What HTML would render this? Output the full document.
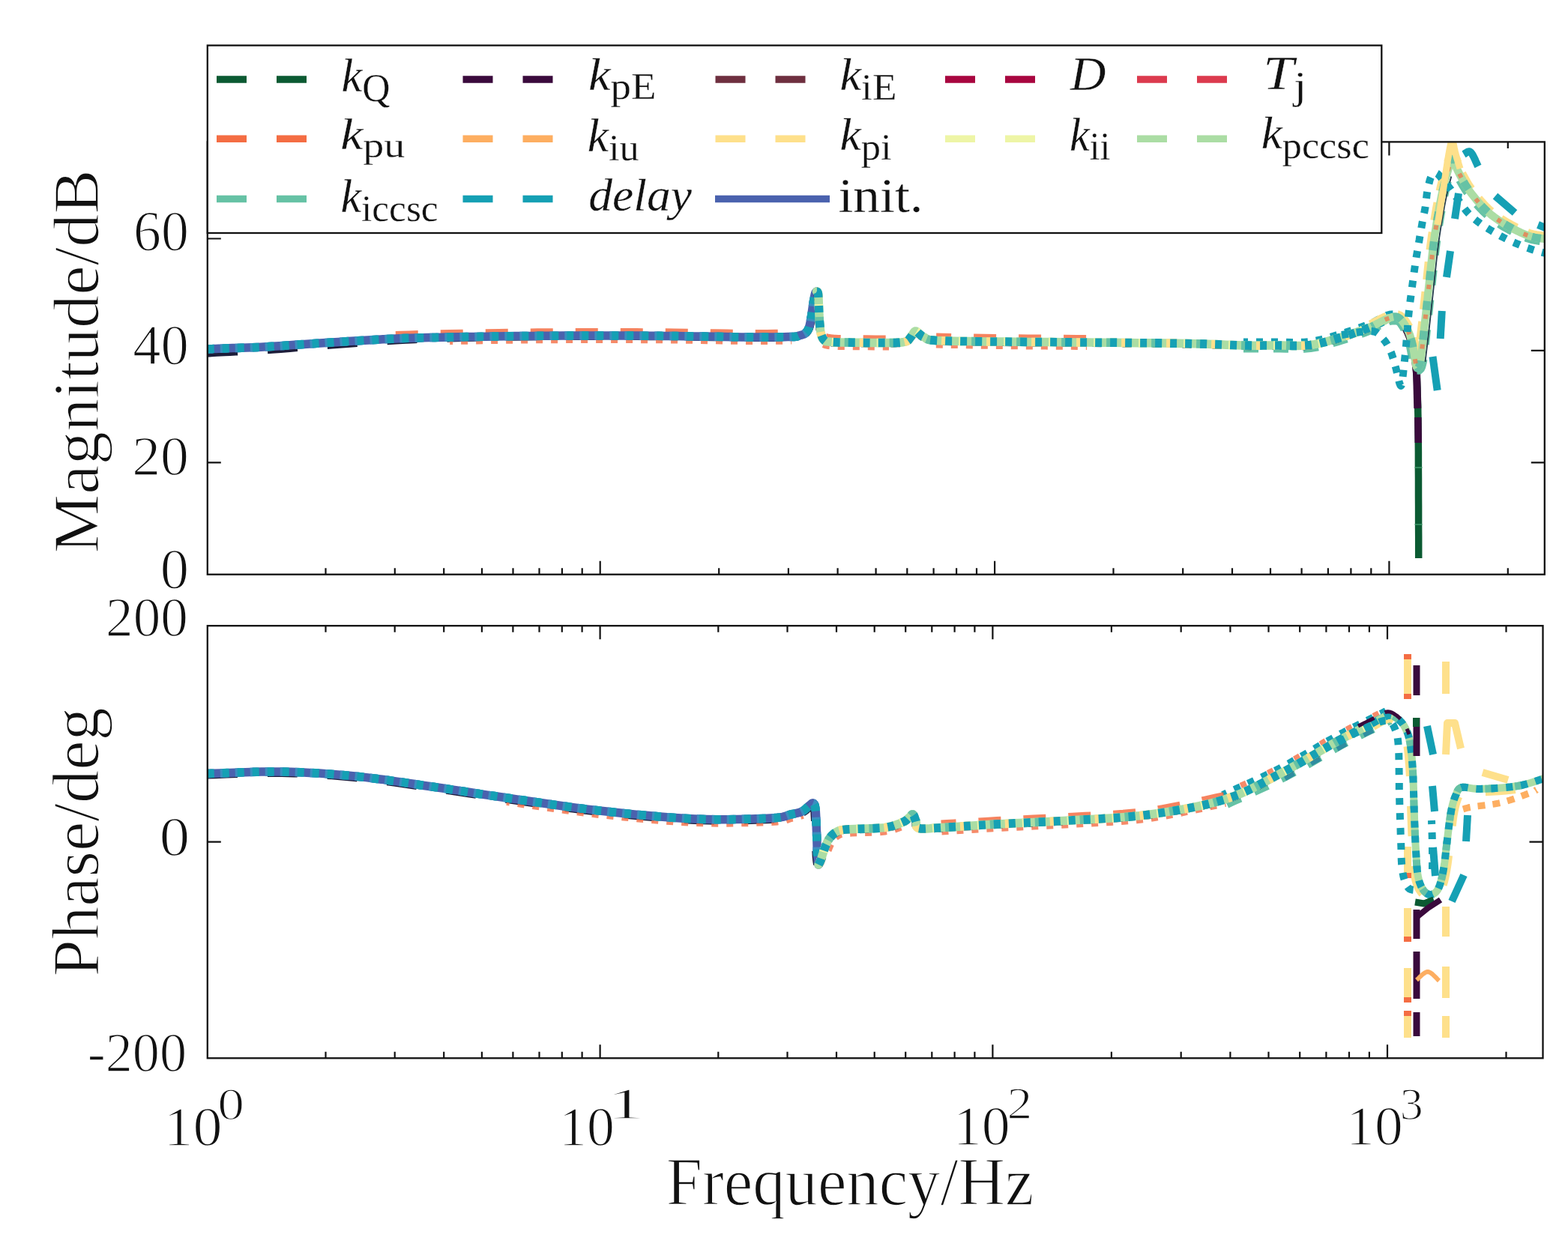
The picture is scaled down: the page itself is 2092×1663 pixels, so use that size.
<!DOCTYPE html>
<html><head><meta charset="utf-8"><title>Bode plot</title>
<style>html,body{margin:0;padding:0;background:#fff;}svg{display:block;filter:blur(0.5px);}text{stroke:#fff;stroke-width:1.4;}text.lg{stroke-width:0.3;}</style></head>
<body>
<svg width="2092" height="1663" viewBox="0 0 2092 1663" font-family="'Liberation Serif', 'DejaVu Serif', serif" fill="#111">
<defs><clipPath id="clipT"><rect x="276.8" y="189.4" width="1784.0000000000002" height="577.3000000000001"/></clipPath><clipPath id="clipB"><rect x="276.8" y="835.2" width="1781.7" height="577.0999999999999"/></clipPath></defs>
<rect width="2092" height="1663" fill="#fff"/>
<path d="M434.5 766.7v-8.5M434.5 189.4v8.5M526.8 766.7v-8.5M526.8 189.4v8.5M592.2 766.7v-8.5M592.2 189.4v8.5M643.0 766.7v-8.5M643.0 189.4v8.5M684.5 766.7v-8.5M684.5 189.4v8.5M719.5 766.7v-8.5M719.5 189.4v8.5M749.9 766.7v-8.5M749.9 189.4v8.5M776.7 766.7v-8.5M776.7 189.4v8.5M800.7 766.7v-18M800.7 189.4v18M959.2 766.7v-8.5M959.2 189.4v8.5M1051.9 766.7v-8.5M1051.9 189.4v8.5M1117.6 766.7v-8.5M1117.6 189.4v8.5M1168.6 766.7v-8.5M1168.6 189.4v8.5M1210.3 766.7v-8.5M1210.3 189.4v8.5M1245.6 766.7v-8.5M1245.6 189.4v8.5M1276.1 766.7v-8.5M1276.1 189.4v8.5M1303.0 766.7v-8.5M1303.0 189.4v8.5M1327.1 766.7v-18M1327.1 189.4v18M1485.5 766.7v-8.5M1485.5 189.4v8.5M1578.2 766.7v-8.5M1578.2 189.4v8.5M1644.0 766.7v-8.5M1644.0 189.4v8.5M1695.0 766.7v-8.5M1695.0 189.4v8.5M1736.6 766.7v-8.5M1736.6 189.4v8.5M1771.9 766.7v-8.5M1771.9 189.4v8.5M1802.4 766.7v-8.5M1802.4 189.4v8.5M1829.3 766.7v-8.5M1829.3 189.4v8.5M1853.4 766.7v-18M1853.4 189.4v18M2011.8 766.7v-8.5M2011.8 189.4v8.5M276.8 617.3h18M2060.8 617.3h-18M276.8 467.9h18M2060.8 467.9h-18M276.8 318.5h18M2060.8 318.5h-18" stroke="#111" stroke-width="2.2" fill="none"/>
<path d="M434.5 1412.3v-8.5M434.5 835.2v8.5M526.7 1412.3v-8.5M526.7 835.2v8.5M592.2 1412.3v-8.5M592.2 835.2v8.5M642.9 1412.3v-8.5M642.9 835.2v8.5M684.4 1412.3v-8.5M684.4 835.2v8.5M719.5 1412.3v-8.5M719.5 835.2v8.5M749.8 1412.3v-8.5M749.8 835.2v8.5M776.6 1412.3v-8.5M776.6 835.2v8.5M800.6 1412.3v-18M800.6 835.2v18M958.3 1412.3v-8.5M958.3 835.2v8.5M1050.5 1412.3v-8.5M1050.5 835.2v8.5M1116.0 1412.3v-8.5M1116.0 835.2v8.5M1166.7 1412.3v-8.5M1166.7 835.2v8.5M1208.2 1412.3v-8.5M1208.2 835.2v8.5M1243.3 1412.3v-8.5M1243.3 835.2v8.5M1273.6 1412.3v-8.5M1273.6 835.2v8.5M1300.4 1412.3v-8.5M1300.4 835.2v8.5M1324.4 1412.3v-18M1324.4 835.2v18M1482.9 1412.3v-8.5M1482.9 835.2v8.5M1575.7 1412.3v-8.5M1575.7 835.2v8.5M1641.4 1412.3v-8.5M1641.4 835.2v8.5M1692.5 1412.3v-8.5M1692.5 835.2v8.5M1734.2 1412.3v-8.5M1734.2 835.2v8.5M1769.4 1412.3v-8.5M1769.4 835.2v8.5M1800.0 1412.3v-8.5M1800.0 835.2v8.5M1826.9 1412.3v-8.5M1826.9 835.2v8.5M1851.0 1412.3v-18M1851.0 835.2v18M2009.5 1412.3v-8.5M2009.5 835.2v8.5M276.8 1123.7h18M2058.5 1123.7h-18" stroke="#111" stroke-width="2.2" fill="none"/>
<g clip-path="url(#clipT)">
<path d="M1852.0 425.0 1853.1 425.0 1854.6 424.8 1856.3 424.6 1858.2 424.4 1860.3 424.3 1862.3 424.5 1864.2 425.1 1866.0 426.0 1867.6 427.4 1869.2 429.1 1870.8 431.2 1872.4 433.4 1873.9 435.9 1875.3 438.5 1876.7 441.3 1878.0 444.0 1879.2 446.8 1880.4 449.8 1881.5 453.0 1882.5 456.2 1883.5 459.6 1884.4 463.0 1885.2 466.5 1886.0 470.0 1886.7 473.4 1887.3 476.5 1887.9 479.6 1888.4 482.9 1888.8 486.4 1889.2 490.3 1889.6 494.8 1890.0 500.0 1890.4 505.9 1890.7 512.2 1891.0 519.0 1891.2 526.2 1891.4 534.0 1891.7 542.2 1891.8 550.9 1892.0 560.0 1892.1 569.8 1892.2 580.3 1892.3 591.3 1892.4 602.8 1892.4 614.6 1892.4 626.4 1892.5 638.3 1892.5 650.0 1892.5 662.3 1892.6 675.6 1892.6 689.4 1892.6 703.1 1892.7 716.1 1892.7 727.8 1892.7 737.6 1892.7 745.0" fill="none" stroke="#0b5a32" stroke-width="9.5" stroke-linecap="butt" stroke-linejoin="round"/>
<path d="M1852.0 425.0 1853.1 425.0 1854.6 424.8 1856.3 424.6 1858.2 424.4 1860.3 424.3 1862.3 424.5 1864.2 425.1 1866.0 426.0 1867.6 427.4 1869.2 429.1 1870.8 431.2 1872.4 433.4 1873.9 435.9 1875.3 438.5 1876.7 441.3 1878.0 444.0 1879.2 446.8 1880.4 449.8 1881.5 453.0 1882.5 456.2 1883.5 459.6 1884.4 463.0 1885.2 466.5 1886.0 470.0 1886.7 473.8 1887.4 477.9 1888.0 482.3 1888.5 486.6 1889.0 490.8 1889.4 494.5 1889.7 497.7 1890.0 500.0" fill="none" stroke="#3a0a3c" stroke-width="9.5" stroke-linecap="butt" stroke-linejoin="round"/>
<path d="M1890.0 495.0 1891.3 545.0" fill="none" stroke="#3a0a3c" stroke-width="10" stroke-linecap="butt" stroke-linejoin="round"/>
<path d="M1891.8 557.0 1892.3 591.0" fill="none" stroke="#3a0a3c" stroke-width="9.5" stroke-linecap="butt" stroke-linejoin="round"/>
<path d="M1887.5 624h10" stroke="#3f9a6a" stroke-width="1.5"/>
<path d="M1887.5 700h10" stroke="#3f9a6a" stroke-width="1.5"/>
<path d="M277.1 472.5 279.3 472.4 282.0 472.2 285.4 472.0 289.5 471.8 294.5 471.5 300.2 471.2 306.9 470.9 314.5 470.6 323.0 470.2 332.1 469.8 341.9 469.2 352.3 468.6 363.2 467.8 374.7 466.9 386.8 465.9 399.6 464.9 413.1 463.8 427.3 462.7 442.9 461.5 460.1 460.2 477.9 458.9 495.7 457.6 512.7 456.4 528.2 455.5 541.5 454.7 553.2 454.2 564.1 453.8 575.1 453.4 586.8 453.0 600.1 452.6 615.1 452.1 631.3 451.7 648.3 451.2 665.7 450.9 683.0 450.7 700.0 450.5 716.7 450.3 733.3 450.2 750.0 450.1 766.7 450.1 783.3 450.0 800.0 450.0 816.7 450.0 833.3 450.1 850.0 450.1 866.7 450.2 883.3 450.3 900.0 450.5 917.1 450.7 934.9 451.0 952.7 451.3 969.9 451.6 985.9 451.9 1000.0 452.0 1012.4 452.0 1023.6 452.0 1033.6 451.9 1042.4 451.8 1049.9 451.7 1056.1 451.5 1060.5 451.3 1063.0 451.1 1064.5 450.8 1065.5 450.4 1065.8 450.2 1066.5 449.9 1068.0 449.6 1069.5 449.2 1070.9 448.7 1072.4 448.2 1073.9 447.5 1075.2 446.6 1076.4 445.6 1077.5 444.5 1078.4 443.3 1079.3 441.9 1080.1 440.4 1080.9 438.7 1081.5 436.9 1082.1 434.9 1082.6 432.7 1083.0 430.5 1083.5 428.0 1084.0 425.3 1084.5 422.3 1085.0 418.9 1085.5 415.3 1086.0 411.7 1086.5 408.3 1087.0 405.3 1087.4 402.6 1087.9 400.1 1088.3 397.8 1088.7 395.7 1089.1 394.0 1089.4 392.6 1089.7 391.7 1090.0 391.2 1090.1 391.1 1090.2 391.0 1090.6 390.8 1090.9 390.4" fill="none" stroke="#1d1d3a" stroke-width="8" stroke-linecap="butt" stroke-linejoin="round" stroke-dasharray="40 40" stroke-dashoffset="0"/>
<path d="M527.8 446.0 535.3 445.8 545.4 445.5 557.6 445.1 571.1 444.7 585.4 444.3 599.9 444.0 614.9 443.7 631.2 443.4 648.2 443.2 665.5 442.9 682.9 442.7 699.9 442.5 716.6 442.3 733.3 442.2 750.0 442.1 766.6 442.1 783.3 442.0 800.0 442.0 816.7 442.0 833.4 442.1 850.0 442.1 866.7 442.2 883.4 442.3 900.1 442.5 917.3 442.7 935.1 443.0 952.9 443.3 970.0 443.6 986.0 443.9 1000.0 444.0 1012.5 444.0 1023.9 444.0 1034.2 443.8 1043.0 443.7 1050.3 443.6 1055.9 443.5" fill="none" stroke="#f46d43" stroke-width="8" stroke-linecap="butt" stroke-linejoin="round" stroke-dasharray="30 30" stroke-dashoffset="0" stroke-opacity="0.85"/>
<path d="M600.1 456.0 611.0 455.8 626.0 455.6 643.8 455.3 663.1 455.0 682.3 454.7 700.1 454.5 716.7 454.3 733.4 454.2 750.0 454.1 766.7 454.1 783.3 454.0 800.0 454.0 816.7 454.0 833.3 454.1 850.0 454.1 866.6 454.2 883.3 454.3 899.9 454.5 917.1 454.7 934.9 455.0 952.6 455.3 969.8 455.6 985.8 455.9 1000.0 456.0 1012.5 456.0 1024.1 456.0 1034.3 455.8 1043.2 455.7 1050.5 455.6 1056.1 455.5" fill="none" stroke="#f46d43" stroke-width="8" stroke-linecap="butt" stroke-linejoin="round" stroke-dasharray="9 11" stroke-dashoffset="5" stroke-opacity="0.8"/>
<path d="M276.8 466.0 278.4 465.9 280.3 465.8 282.5 465.7 285.2 465.6 288.2 465.5 291.6 465.3 295.6 465.2 300.0 465.0 305.0 464.8 310.4 464.6 316.4 464.5 322.8 464.2 329.5 464.0 336.7 463.7 344.2 463.4 352.0 463.0 360.1 462.5 368.5 462.0 377.3 461.4 386.4 460.8 396.0 460.1 405.9 459.4 416.2 458.7 427.0 458.0 438.6 457.3 451.1 456.5 464.2 455.6 477.7 454.8 491.1 454.0 504.2 453.2 516.6 452.6 528.0 452.0 538.2 451.6 547.4 451.2 555.9 450.9 564.1 450.7 572.2 450.5 580.7 450.4 589.9 450.2 600.0 450.0 611.2 449.8 623.0 449.6 635.4 449.4 648.2 449.2 661.3 449.0 674.3 448.8 687.3 448.6 700.0 448.5 712.5 448.4 725.0 448.3 737.5 448.2 750.0 448.1 762.5 448.1 775.0 448.0 787.5 448.0 800.0 448.0 812.5 448.0 825.0 448.0 837.5 448.1 850.0 448.1 862.5 448.2 875.0 448.3 887.5 448.4 900.0 448.5 912.8 448.7 926.0 448.9 939.4 449.1 952.8 449.3 965.7 449.5 978.1 449.7 989.6 449.9 1000.0 450.0 1009.4 450.0 1018.2 450.0 1026.2 450.0 1033.6 449.9 1040.3 449.8 1046.3 449.7 1051.5 449.6 1056.0 449.5 1059.5 449.4 1061.8 449.2 1063.2 449.1 1064.0 448.9 1064.4 448.7 1064.7 448.5 1065.2 448.3 1066.0 448.0 1067.1 447.7 1068.2 447.4 1069.3 447.2 1070.3 446.8 1071.3 446.5 1072.3 446.1 1073.2 445.6 1074.0 445.0 1074.8 444.4 1075.5 443.7 1076.2 442.9 1076.8 442.1 1077.4 441.2 1078.0 440.3 1078.5 439.2 1079.0 438.0 1079.5 436.7 1079.9 435.3 1080.3 433.9 1080.6 432.3 1081.0 430.7 1081.3 428.9 1081.6 427.0 1082.0 425.0 1082.4 422.8 1082.8 420.3 1083.1 417.7 1083.5 415.0 1083.9 412.3 1084.3 409.7 1084.6 407.2 1085.0 405.0 1085.3 403.0 1085.7 401.0 1086.0 399.2 1086.3 397.4 1086.6 395.8 1086.9 394.4 1087.2 393.1 1087.5 392.0 1087.8 391.1 1088.1 390.5 1088.4 390.0 1088.7 389.7 1088.9 389.5 1089.2 389.3 1089.3 389.2 1089.5 389.0" fill="none" stroke="#4a62ae" stroke-width="11.5" stroke-linecap="round" stroke-linejoin="round"/>
<path d="M276.8 466.0 278.4 465.9 280.3 465.8 282.5 465.7 285.2 465.6 288.2 465.5 291.6 465.3 295.6 465.2 300.0 465.0 305.0 464.8 310.4 464.6 316.4 464.5 322.8 464.2 329.5 464.0 336.7 463.7 344.2 463.4 352.0 463.0 360.1 462.5 368.5 462.0 377.3 461.4 386.4 460.8 396.0 460.1 405.9 459.4 416.2 458.7 427.0 458.0 438.6 457.3 451.1 456.5 464.2 455.6 477.7 454.8 491.1 454.0 504.2 453.2 516.6 452.6 528.0 452.0 538.2 451.6 547.4 451.2 555.9 450.9 564.1 450.7 572.2 450.5 580.7 450.4 589.9 450.2 600.0 450.0 611.2 449.8 623.0 449.6 635.4 449.4 648.2 449.2 661.3 449.0 674.3 448.8 687.3 448.6 700.0 448.5 712.5 448.4 725.0 448.3 737.5 448.2 750.0 448.1 762.5 448.1 775.0 448.0 787.5 448.0 800.0 448.0 812.5 448.0 825.0 448.0 837.5 448.1 850.0 448.1 862.5 448.2 875.0 448.3 887.5 448.4 900.0 448.5 912.8 448.7 926.0 448.9 939.4 449.1 952.8 449.3 965.7 449.5 978.1 449.7 989.6 449.9 1000.0 450.0 1009.4 450.0 1018.2 450.0 1026.2 450.0 1033.6 449.9 1040.3 449.8 1046.3 449.7 1051.5 449.6 1056.0 449.5 1059.5 449.4 1061.8 449.2 1063.2 449.1 1064.0 448.9 1064.4 448.7 1064.7 448.5 1065.2 448.3 1066.0 448.0 1067.1 447.7 1068.2 447.4 1069.3 447.2 1070.3 446.8 1071.3 446.5 1072.3 446.1 1073.2 445.6 1074.0 445.0 1074.8 444.4 1075.5 443.7 1076.2 442.9 1076.8 442.1 1077.4 441.2 1078.0 440.3 1078.5 439.2 1079.0 438.0 1079.5 436.7 1079.9 435.3 1080.3 433.9 1080.6 432.3 1081.0 430.7 1081.3 428.9 1081.6 427.0 1082.0 425.0 1082.4 422.8 1082.8 420.3 1083.1 417.7 1083.5 415.0 1083.9 412.3 1084.3 409.7 1084.6 407.2 1085.0 405.0 1085.3 403.0 1085.7 401.0 1086.0 399.2 1086.3 397.4 1086.6 395.8 1086.9 394.4 1087.2 393.1 1087.5 392.0 1087.8 391.1 1088.1 390.5 1088.4 390.0 1088.7 389.7 1088.9 389.5 1089.2 389.3 1089.3 389.2 1089.5 389.0" fill="none" stroke="#3a8fc0" stroke-width="11.5" stroke-linecap="butt" stroke-linejoin="round" stroke-dasharray="10 10" stroke-dashoffset="3"/>
<path d="M276.8 466.0 278.4 465.9 280.3 465.8 282.5 465.7 285.2 465.6 288.2 465.5 291.6 465.3 295.6 465.2 300.0 465.0 305.0 464.8 310.4 464.6 316.4 464.5 322.8 464.2 329.5 464.0 336.7 463.7 344.2 463.4 352.0 463.0 360.1 462.5 368.5 462.0 377.3 461.4 386.4 460.8 396.0 460.1 405.9 459.4 416.2 458.7 427.0 458.0 438.6 457.3 451.1 456.5 464.2 455.6 477.7 454.8 491.1 454.0 504.2 453.2 516.6 452.6 528.0 452.0 538.2 451.6 547.4 451.2 555.9 450.9 564.1 450.7 572.2 450.5 580.7 450.4 589.9 450.2 600.0 450.0 611.2 449.8 623.0 449.6 635.4 449.4 648.2 449.2 661.3 449.0 674.3 448.8 687.3 448.6 700.0 448.5 712.5 448.4 725.0 448.3 737.5 448.2 750.0 448.1 762.5 448.1 775.0 448.0 787.5 448.0 800.0 448.0 812.5 448.0 825.0 448.0 837.5 448.1 850.0 448.1 862.5 448.2 875.0 448.3 887.5 448.4 900.0 448.5 912.8 448.7 926.0 448.9 939.4 449.1 952.8 449.3 965.7 449.5 978.1 449.7 989.6 449.9 1000.0 450.0 1009.4 450.0 1018.2 450.0 1026.2 450.0 1033.6 449.9 1040.3 449.8 1046.3 449.7 1051.5 449.6 1056.0 449.5 1059.5 449.4 1061.8 449.2 1063.2 449.1 1064.0 448.9 1064.4 448.7 1064.7 448.5 1065.2 448.3 1066.0 448.0 1067.1 447.7 1068.2 447.4 1069.3 447.2 1070.3 446.8 1071.3 446.5 1072.3 446.1 1073.2 445.6 1074.0 445.0 1074.8 444.4 1075.5 443.7 1076.2 442.9 1076.8 442.1 1077.4 441.2 1078.0 440.3 1078.5 439.2 1079.0 438.0 1079.5 436.7 1079.9 435.3 1080.3 433.9 1080.6 432.3 1081.0 430.7 1081.3 428.9 1081.6 427.0 1082.0 425.0 1082.4 422.8 1082.8 420.3 1083.1 417.7 1083.5 415.0 1083.9 412.3 1084.3 409.7 1084.6 407.2 1085.0 405.0 1085.3 403.0 1085.7 401.0 1086.0 399.2 1086.3 397.4 1086.6 395.8 1086.9 394.4 1087.2 393.1 1087.5 392.0 1087.8 391.1 1088.1 390.5 1088.4 390.0 1088.7 389.7 1088.9 389.5 1089.2 389.3 1089.3 389.2 1089.5 389.0" fill="none" stroke="#15a0b4" stroke-width="11.5" stroke-linecap="butt" stroke-linejoin="round" stroke-dasharray="9 11" stroke-dashoffset="0"/>
<path d="M1659.0 456.0 1663.4 456.0 1669.4 456.0 1676.5 456.0 1684.3 456.0 1692.3 456.0 1700.0 456.0 1707.7 456.1 1715.8 456.2 1724.0 456.4 1732.1 456.4 1740.0 456.2 1747.4 455.5 1754.5 454.4 1761.4 453.0 1768.2 451.3 1775.0 449.3 1781.7 447.3 1788.5 445.2 1795.5 443.1 1802.6 440.7 1809.6 438.3 1816.3 435.9 1822.6 433.5 1828.1 431.4 1832.7 429.4 1836.6 427.3 1840.2 425.3 1843.5 423.4 1846.9 421.7 1850.4 420.3 1854.0 419.3 1857.4 418.9 1860.4 418.8 1862.9 418.9 1864.7 419.0 1866.0 419.0" fill="none" stroke="#15a0b4" stroke-width="9" stroke-linecap="butt" stroke-linejoin="round" stroke-dasharray="9 11" stroke-dashoffset="3"/>
<path d="M1659.0 466.0 1663.4 466.0 1669.4 466.0 1676.5 466.0 1684.3 466.0 1692.3 466.0 1700.0 466.0 1707.6 466.1 1715.6 466.2 1723.9 466.4 1732.3 466.4 1740.6 466.2 1748.6 465.5 1756.3 464.3 1763.6 462.7 1770.8 460.9 1777.8 458.9 1784.6 456.9 1791.5 454.8 1798.5 452.6 1805.7 450.2 1812.9 447.7 1819.8 445.3 1826.2 442.9 1831.9 440.6 1836.9 438.4 1841.3 436.1 1845.1 434.0 1848.3 432.2 1851.1 430.8 1853.6 429.7 1855.9 429.2 1858.2 428.9 1860.4 428.8 1862.5 428.9 1864.4 429.0 1866.0 429.0" fill="none" stroke="#66c2a5" stroke-width="9" stroke-linecap="butt" stroke-linejoin="round" stroke-dasharray="20 20" stroke-dashoffset="0"/>
<path d="M1101.9 448.8 1102.6 449.0 1103.2 449.3 1103.7 449.5 1104.3 449.7 1105.2 449.8 1106.7 450.0 1108.5 450.2 1110.1 450.4 1111.9 450.6 1114.6 450.7 1118.5 450.9 1124.1 451.0 1132.6 451.1 1143.8 451.2 1156.2 451.3 1168.3 451.4 1178.8 451.5 1186.0 451.5" fill="none" stroke="#f46d43" stroke-width="8" stroke-linecap="butt" stroke-linejoin="round" stroke-dasharray="30 30" stroke-dashoffset="10" stroke-opacity="0.85"/>
<path d="M1249.1 448.5 1257.5 448.7 1268.7 448.9 1282.1 449.2 1297.2 449.5 1313.4 449.8 1330.1 450.0 1349.2 450.2 1371.6 450.4 1395.1 450.6 1417.5 450.8 1436.5 450.9 1450.0 451.0" fill="none" stroke="#f46d43" stroke-width="8" stroke-linecap="butt" stroke-linejoin="round" stroke-dasharray="30 30" stroke-dashoffset="10" stroke-opacity="0.85"/>
<path d="M1098.1 460.2 1098.4 460.3 1099.0 460.5 1100.0 460.9 1101.5 461.3 1103.2 461.7 1105.3 462.0 1107.1 462.2 1108.9 462.4 1111.1 462.5 1114.0 462.7 1118.1 462.9 1123.9 463.0 1132.4 463.1 1143.7 463.2 1156.1 463.3 1168.3 463.4 1178.7 463.5 1186.0 463.5" fill="none" stroke="#f46d43" stroke-width="8" stroke-linecap="butt" stroke-linejoin="round" stroke-dasharray="9 11" stroke-dashoffset="0" stroke-opacity="0.8"/>
<path d="M1248.9 460.5 1257.2 460.7 1268.4 460.9 1281.9 461.2 1297.0 461.5 1313.2 461.8 1329.9 462.0 1349.1 462.2 1371.5 462.4 1395.0 462.6 1417.4 462.8 1436.4 462.9 1450.0 463.0" fill="none" stroke="#f46d43" stroke-width="8" stroke-linecap="butt" stroke-linejoin="round" stroke-dasharray="9 11" stroke-dashoffset="0" stroke-opacity="0.8"/>
<path d="M1088.1 391.1 1088.8 391.5 1089.3 391.6 1089.0 391.4 1088.7 391.1 1088.8 391.3 1089.0 392.4 1089.2 394.3 1089.4 397.0 1089.6 400.1 1089.7 403.4 1089.8 406.8 1090.0 410.1 1090.2 413.4 1090.3 416.8 1090.4 420.2 1090.6 423.7 1090.8 427.0 1091.0 430.2 1091.3 433.2 1091.5 436.1 1091.8 439.0 1092.1 441.7 1092.6 444.3 1093.1 446.6 1093.7 448.7 1094.5 450.7 1095.3 452.4 1096.2 453.9 1097.2 455.2 1098.3 456.3 1099.3 457.2 1100.5 457.9 1101.8 458.2 1102.9 458.3 1104.1 458.4 1105.8 458.5 1107.5 458.7 1109.2 458.9 1111.3 459.1 1114.2 459.2 1118.2 459.4 1124.0 459.5 1132.2 459.6 1142.9 459.8 1154.7 459.9 1166.7 460.0 1177.5 460.0 1186.0 460.0 1192.2 459.9 1196.9 459.8 1200.6 459.7 1203.6 459.4 1206.1 459.0 1208.7 458.4 1211.1 457.6 1213.0 456.4 1214.4 455.0 1215.3 453.7 1216.1 452.6 1217.0 451.5 1218.1 450.1 1219.2 448.3 1220.2 446.7 1221.1 445.3 1221.7 444.5 1221.8 444.4 1221.5 444.4 1221.7 444.6 1222.3 445.1 1223.3 446.0 1224.3 447.1 1225.5 448.0 1226.3 448.6 1227.0 449.2 1227.8 449.9 1228.9 450.7 1230.3 451.5 1231.9 452.2 1232.9 452.8 1233.6 453.5 1235.2 454.6 1237.9 455.6 1242.2 456.4 1248.8 457.0 1258.2 457.4 1269.7 457.7 1283.0 458.0 1297.7 458.1 1313.5 458.3 1330.0 458.5 1347.6 458.7 1366.6 458.9 1386.7 459.0 1407.6 459.1 1428.8 459.3 1450.0 459.5 1472.1 459.7 1495.5 459.9 1519.2 460.2 1542.4 460.4 1563.9 460.7 1583.0 461.0 1599.3 461.4 1613.8 461.9 1626.7 462.3 1638.3 462.8 1648.9 463.2 1658.9 463.5 1667.7 463.7 1675.0 463.7 1681.3 463.7 1687.1 463.6 1693.2 463.6 1700.0 463.5 1707.6 463.6 1715.7 463.7 1723.9 463.9 1732.2 463.9 1740.4 463.7 1748.3 463.0 1755.8 461.8 1763.1 460.3 1770.2 458.5 1777.1 456.5 1783.9 454.5 1790.7 452.4 1797.8 450.2 1804.9 447.9 1812.1 445.4 1818.9 442.9 1825.3 440.5 1830.9 438.3 1836.0 436.1 1840.6 433.9 1844.7 431.8 1848.2 429.9 1851.0 428.4 1853.2 427.2" fill="none" stroke="#203848" stroke-width="7" stroke-linecap="butt" stroke-linejoin="round" stroke-dasharray="12 28" stroke-dashoffset="0"/>
<path d="M1089.5 389.0 1089.7 389.1 1089.9 389.2 1090.1 389.2 1090.4 389.4 1090.7 389.6 1091.0 390.1 1091.3 390.9 1091.5 392.0 1091.7 393.5 1091.8 395.4 1091.9 397.6 1092.1 399.9 1092.2 402.4 1092.3 405.0 1092.4 407.6 1092.5 410.0 1092.6 412.4 1092.7 415.0 1092.8 417.5 1092.9 420.1 1093.1 422.7 1093.2 425.2 1093.3 427.7 1093.5 430.0 1093.7 432.2 1093.9 434.5 1094.1 436.6 1094.3 438.7 1094.5 440.7 1094.8 442.6 1095.1 444.4 1095.5 446.0 1095.9 447.5 1096.4 448.8 1096.9 450.0 1097.5 451.2 1098.1 452.2 1098.7 453.0 1099.3 453.8 1100.0 454.5 1100.6 455.0 1101.1 455.4 1101.6 455.6 1102.2 455.7 1102.8 455.8 1103.6 455.8 1104.7 455.9 1106.0 456.0 1107.4 456.2 1108.6 456.3 1109.9 456.4 1111.5 456.6 1113.5 456.7 1116.1 456.8 1119.6 456.9 1124.0 457.0 1129.9 457.1 1137.3 457.2 1145.8 457.3 1154.8 457.4 1163.7 457.5 1172.3 457.5 1179.9 457.5 1186.0 457.5 1190.8 457.4 1194.7 457.4 1197.8 457.3 1200.4 457.2 1202.6 457.0 1204.5 456.7 1206.2 456.4 1208.0 456.0 1209.6 455.5 1210.8 454.9 1211.8 454.2 1212.5 453.4 1213.1 452.6 1213.7 451.7 1214.3 450.9 1215.0 450.0 1215.8 449.0 1216.6 447.9 1217.3 446.6 1218.1 445.4 1218.8 444.2 1219.5 443.2 1220.3 442.4 1221.0 442.0 1221.8 441.9 1222.5 442.2 1223.2 442.6 1224.0 443.2 1224.8 444.0 1225.5 444.7 1226.2 445.4 1227.0 446.0 1227.7 446.5 1228.3 447.0 1228.8 447.5 1229.4 448.0 1230.0 448.5 1230.8 449.0 1231.8 449.5 1233.0 450.0 1234.1 450.6 1234.8 451.2 1235.4 451.8 1236.3 452.4 1237.8 453.0 1240.2 453.6 1243.8 454.1 1249.0 454.5 1255.7 454.8 1263.8 455.1 1272.9 455.3 1283.0 455.5 1293.9 455.6 1305.5 455.7 1317.6 455.9 1330.0 456.0 1343.0 456.1 1357.0 456.3 1371.6 456.4 1386.8 456.5 1402.3 456.6 1418.2 456.7 1434.1 456.9 1450.0 457.0 1466.4 457.2 1483.7 457.3 1501.4 457.5 1519.2 457.7 1536.7 457.8 1553.5 458.0 1569.0 458.3 1583.0 458.5 1595.5 458.8 1606.8 459.1 1617.2 459.5 1626.8 459.8 1635.6 460.2 1643.8 460.5 1651.6 460.8 1659.0 461.0 1665.8 461.1 1671.5 461.2 1676.6 461.2 1681.2 461.2 1685.7 461.1 1690.1 461.1 1694.8 461.0 1700.0 461.0 1705.7 461.0 1711.6 461.1 1717.8 461.3 1723.9 461.4 1730.1 461.4 1736.3 461.3 1742.2 461.0 1748.0 460.5 1753.6 459.7 1759.0 458.7 1764.3 457.4 1769.5 456.1 1774.7 454.6 1779.8 453.1 1784.9 451.5 1790.0 450.0 1795.2 448.4 1800.6 446.7 1805.9 444.9 1811.2 443.0 1816.4 441.2 1821.3 439.4 1825.9 437.6 1830.0 436.0 1833.8 434.4 1837.3 432.8 1840.5 431.2 1843.5 429.6 1846.2 428.2 1848.5 426.9 1850.4 425.8 1852.0 425.0" fill="none" stroke="#abdda4" stroke-width="11.5" stroke-linecap="round" stroke-linejoin="round"/>
<path d="M1089.5 389.0 1089.7 389.1 1089.9 389.2 1090.1 389.2 1090.4 389.4 1090.7 389.6 1091.0 390.1 1091.3 390.9 1091.5 392.0 1091.7 393.5 1091.8 395.4 1091.9 397.6 1092.1 399.9 1092.2 402.4 1092.3 405.0 1092.4 407.6 1092.5 410.0 1092.6 412.4 1092.7 415.0 1092.8 417.5 1092.9 420.1 1093.1 422.7 1093.2 425.2 1093.3 427.7 1093.5 430.0 1093.7 432.2 1093.9 434.5 1094.1 436.6 1094.3 438.7 1094.5 440.7 1094.8 442.6 1095.1 444.4 1095.5 446.0 1095.9 447.5 1096.4 448.8 1096.9 450.0 1097.5 451.2 1098.1 452.2 1098.7 453.0 1099.3 453.8 1100.0 454.5 1100.6 455.0 1101.1 455.4 1101.6 455.6 1102.2 455.7 1102.8 455.8 1103.6 455.8 1104.7 455.9 1106.0 456.0 1107.4 456.2 1108.6 456.3 1109.9 456.4 1111.5 456.6 1113.5 456.7 1116.1 456.8 1119.6 456.9 1124.0 457.0 1129.9 457.1 1137.3 457.2 1145.8 457.3 1154.8 457.4 1163.7 457.5 1172.3 457.5 1179.9 457.5 1186.0 457.5 1190.8 457.4 1194.7 457.4 1197.8 457.3 1200.4 457.2 1202.6 457.0 1204.5 456.7 1206.2 456.4 1208.0 456.0 1209.6 455.5 1210.8 454.9 1211.8 454.2 1212.5 453.4 1213.1 452.6 1213.7 451.7 1214.3 450.9 1215.0 450.0 1215.8 449.0 1216.6 447.9 1217.3 446.6 1218.1 445.4 1218.8 444.2 1219.5 443.2 1220.3 442.4 1221.0 442.0 1221.8 441.9 1222.5 442.2 1223.2 442.6 1224.0 443.2 1224.8 444.0 1225.5 444.7 1226.2 445.4 1227.0 446.0 1227.7 446.5 1228.3 447.0 1228.8 447.5 1229.4 448.0 1230.0 448.5 1230.8 449.0 1231.8 449.5 1233.0 450.0 1234.1 450.6 1234.8 451.2 1235.4 451.8 1236.3 452.4 1237.8 453.0 1240.2 453.6 1243.8 454.1 1249.0 454.5 1255.7 454.8 1263.8 455.1 1272.9 455.3 1283.0 455.5 1293.9 455.6 1305.5 455.7 1317.6 455.9 1330.0 456.0 1343.0 456.1 1357.0 456.3 1371.6 456.4 1386.8 456.5 1402.3 456.6 1418.2 456.7 1434.1 456.9 1450.0 457.0 1466.4 457.2 1483.7 457.3 1501.4 457.5 1519.2 457.7 1536.7 457.8 1553.5 458.0 1569.0 458.3 1583.0 458.5 1595.5 458.8 1606.8 459.1 1617.2 459.5 1626.8 459.8 1635.6 460.2 1643.8 460.5 1651.6 460.8 1659.0 461.0 1665.8 461.1 1671.5 461.2 1676.6 461.2 1681.2 461.2 1685.7 461.1 1690.1 461.1 1694.8 461.0 1700.0 461.0 1705.7 461.0 1711.6 461.1 1717.8 461.3 1723.9 461.4 1730.1 461.4 1736.3 461.3 1742.2 461.0 1748.0 460.5 1753.6 459.7 1759.0 458.7 1764.3 457.4 1769.5 456.1 1774.7 454.6 1779.8 453.1 1784.9 451.5 1790.0 450.0 1795.2 448.4 1800.6 446.7 1805.9 444.9 1811.2 443.0 1816.4 441.2 1821.3 439.4 1825.9 437.6 1830.0 436.0 1833.8 434.4 1837.3 432.8 1840.5 431.2 1843.5 429.6 1846.2 428.2 1848.5 426.9 1850.4 425.8 1852.0 425.0" fill="none" stroke="#fee08b" stroke-width="11.5" stroke-linecap="butt" stroke-linejoin="round" stroke-dasharray="14 46" stroke-dashoffset="5"/>
<path d="M1089.5 389.0 1089.7 389.1 1089.9 389.2 1090.1 389.2 1090.4 389.4 1090.7 389.6 1091.0 390.1 1091.3 390.9 1091.5 392.0 1091.7 393.5 1091.8 395.4 1091.9 397.6 1092.1 399.9 1092.2 402.4 1092.3 405.0 1092.4 407.6 1092.5 410.0 1092.6 412.4 1092.7 415.0 1092.8 417.5 1092.9 420.1 1093.1 422.7 1093.2 425.2 1093.3 427.7 1093.5 430.0 1093.7 432.2 1093.9 434.5 1094.1 436.6 1094.3 438.7 1094.5 440.7 1094.8 442.6 1095.1 444.4 1095.5 446.0 1095.9 447.5 1096.4 448.8 1096.9 450.0 1097.5 451.2 1098.1 452.2 1098.7 453.0 1099.3 453.8 1100.0 454.5 1100.6 455.0 1101.1 455.4 1101.6 455.6 1102.2 455.7 1102.8 455.8 1103.6 455.8 1104.7 455.9 1106.0 456.0 1107.4 456.2 1108.6 456.3 1109.9 456.4 1111.5 456.6 1113.5 456.7 1116.1 456.8 1119.6 456.9 1124.0 457.0 1129.9 457.1 1137.3 457.2 1145.8 457.3 1154.8 457.4 1163.7 457.5 1172.3 457.5 1179.9 457.5 1186.0 457.5 1190.8 457.4 1194.7 457.4 1197.8 457.3 1200.4 457.2 1202.6 457.0 1204.5 456.7 1206.2 456.4 1208.0 456.0 1209.6 455.5 1210.8 454.9 1211.8 454.2 1212.5 453.4 1213.1 452.6 1213.7 451.7 1214.3 450.9 1215.0 450.0 1215.8 449.0 1216.6 447.9 1217.3 446.6 1218.1 445.4 1218.8 444.2 1219.5 443.2 1220.3 442.4 1221.0 442.0 1221.8 441.9 1222.5 442.2 1223.2 442.6 1224.0 443.2 1224.8 444.0 1225.5 444.7 1226.2 445.4 1227.0 446.0 1227.7 446.5 1228.3 447.0 1228.8 447.5 1229.4 448.0 1230.0 448.5 1230.8 449.0 1231.8 449.5 1233.0 450.0 1234.1 450.6 1234.8 451.2 1235.4 451.8 1236.3 452.4 1237.8 453.0 1240.2 453.6 1243.8 454.1 1249.0 454.5 1255.7 454.8 1263.8 455.1 1272.9 455.3 1283.0 455.5 1293.9 455.6 1305.5 455.7 1317.6 455.9 1330.0 456.0 1343.0 456.1 1357.0 456.3 1371.6 456.4 1386.8 456.5 1402.3 456.6 1418.2 456.7 1434.1 456.9 1450.0 457.0 1466.4 457.2 1483.7 457.3 1501.4 457.5 1519.2 457.7 1536.7 457.8 1553.5 458.0 1569.0 458.3 1583.0 458.5 1595.5 458.8 1606.8 459.1 1617.2 459.5 1626.8 459.8 1635.6 460.2 1643.8 460.5 1651.6 460.8 1659.0 461.0 1665.8 461.1 1671.5 461.2 1676.6 461.2 1681.2 461.2 1685.7 461.1 1690.1 461.1 1694.8 461.0 1700.0 461.0 1705.7 461.0 1711.6 461.1 1717.8 461.3 1723.9 461.4 1730.1 461.4 1736.3 461.3 1742.2 461.0 1748.0 460.5 1753.6 459.7 1759.0 458.7 1764.3 457.4 1769.5 456.1 1774.7 454.6 1779.8 453.1 1784.9 451.5 1790.0 450.0 1795.2 448.4 1800.6 446.7 1805.9 444.9 1811.2 443.0 1816.4 441.2 1821.3 439.4 1825.9 437.6 1830.0 436.0 1833.8 434.4 1837.3 432.8 1840.5 431.2 1843.5 429.6 1846.2 428.2 1848.5 426.9 1850.4 425.8 1852.0 425.0" fill="none" stroke="#66c2a5" stroke-width="11.5" stroke-linecap="butt" stroke-linejoin="round" stroke-dasharray="14 46" stroke-dashoffset="25"/>
<path d="M1089.5 389.0 1089.7 389.1 1089.9 389.2 1090.1 389.2 1090.4 389.4 1090.7 389.6 1091.0 390.1 1091.3 390.9 1091.5 392.0 1091.7 393.5 1091.8 395.4 1091.9 397.6 1092.1 399.9 1092.2 402.4 1092.3 405.0 1092.4 407.6 1092.5 410.0 1092.6 412.4 1092.7 415.0 1092.8 417.5 1092.9 420.1 1093.1 422.7 1093.2 425.2 1093.3 427.7 1093.5 430.0 1093.7 432.2 1093.9 434.5 1094.1 436.6 1094.3 438.7 1094.5 440.7 1094.8 442.6 1095.1 444.4 1095.5 446.0 1095.9 447.5 1096.4 448.8 1096.9 450.0 1097.5 451.2 1098.1 452.2 1098.7 453.0 1099.3 453.8 1100.0 454.5 1100.6 455.0 1101.1 455.4 1101.6 455.6 1102.2 455.7 1102.8 455.8 1103.6 455.8 1104.7 455.9 1106.0 456.0 1107.4 456.2 1108.6 456.3 1109.9 456.4 1111.5 456.6 1113.5 456.7 1116.1 456.8 1119.6 456.9 1124.0 457.0 1129.9 457.1 1137.3 457.2 1145.8 457.3 1154.8 457.4 1163.7 457.5 1172.3 457.5 1179.9 457.5 1186.0 457.5 1190.8 457.4 1194.7 457.4 1197.8 457.3 1200.4 457.2 1202.6 457.0 1204.5 456.7 1206.2 456.4 1208.0 456.0 1209.6 455.5 1210.8 454.9 1211.8 454.2 1212.5 453.4 1213.1 452.6 1213.7 451.7 1214.3 450.9 1215.0 450.0 1215.8 449.0 1216.6 447.9 1217.3 446.6 1218.1 445.4 1218.8 444.2 1219.5 443.2 1220.3 442.4 1221.0 442.0 1221.8 441.9 1222.5 442.2 1223.2 442.6 1224.0 443.2 1224.8 444.0 1225.5 444.7 1226.2 445.4 1227.0 446.0 1227.7 446.5 1228.3 447.0 1228.8 447.5 1229.4 448.0 1230.0 448.5 1230.8 449.0 1231.8 449.5 1233.0 450.0 1234.1 450.6 1234.8 451.2 1235.4 451.8 1236.3 452.4 1237.8 453.0 1240.2 453.6 1243.8 454.1 1249.0 454.5 1255.7 454.8 1263.8 455.1 1272.9 455.3 1283.0 455.5 1293.9 455.6 1305.5 455.7 1317.6 455.9 1330.0 456.0 1343.0 456.1 1357.0 456.3 1371.6 456.4 1386.8 456.5 1402.3 456.6 1418.2 456.7 1434.1 456.9 1450.0 457.0 1466.4 457.2 1483.7 457.3 1501.4 457.5 1519.2 457.7 1536.7 457.8 1553.5 458.0 1569.0 458.3 1583.0 458.5 1595.5 458.8 1606.8 459.1 1617.2 459.5 1626.8 459.8 1635.6 460.2 1643.8 460.5 1651.6 460.8 1659.0 461.0 1665.8 461.1 1671.5 461.2 1676.6 461.2 1681.2 461.2 1685.7 461.1 1690.1 461.1 1694.8 461.0 1700.0 461.0 1705.7 461.0 1711.6 461.1 1717.8 461.3 1723.9 461.4 1730.1 461.4 1736.3 461.3 1742.2 461.0 1748.0 460.5 1753.6 459.7 1759.0 458.7 1764.3 457.4 1769.5 456.1 1774.7 454.6 1779.8 453.1 1784.9 451.5 1790.0 450.0 1795.2 448.4 1800.6 446.7 1805.9 444.9 1811.2 443.0 1816.4 441.2 1821.3 439.4 1825.9 437.6 1830.0 436.0 1833.8 434.4 1837.3 432.8 1840.5 431.2 1843.5 429.6 1846.2 428.2 1848.5 426.9 1850.4 425.8 1852.0 425.0" fill="none" stroke="#eef5a6" stroke-width="11.5" stroke-linecap="butt" stroke-linejoin="round" stroke-dasharray="8 52" stroke-dashoffset="42"/>
<path d="M1089.5 389.0 1089.7 389.1 1089.9 389.2 1090.1 389.2 1090.4 389.4 1090.7 389.6 1091.0 390.1 1091.3 390.9 1091.5 392.0 1091.7 393.5 1091.8 395.4 1091.9 397.6 1092.1 399.9 1092.2 402.4 1092.3 405.0 1092.4 407.6 1092.5 410.0 1092.6 412.4 1092.7 415.0 1092.8 417.5 1092.9 420.1 1093.1 422.7 1093.2 425.2 1093.3 427.7 1093.5 430.0 1093.7 432.2 1093.9 434.5 1094.1 436.6 1094.3 438.7 1094.5 440.7 1094.8 442.6 1095.1 444.4 1095.5 446.0 1095.9 447.5 1096.4 448.8 1096.9 450.0 1097.5 451.2 1098.1 452.2 1098.7 453.0 1099.3 453.8 1100.0 454.5 1100.6 455.0 1101.1 455.4 1101.6 455.6 1102.2 455.7 1102.8 455.8 1103.6 455.8 1104.7 455.9 1106.0 456.0 1107.4 456.2 1108.6 456.3 1109.9 456.4 1111.5 456.6 1113.5 456.7 1116.1 456.8 1119.6 456.9 1124.0 457.0 1129.9 457.1 1137.3 457.2 1145.8 457.3 1154.8 457.4 1163.7 457.5 1172.3 457.5 1179.9 457.5 1186.0 457.5 1190.8 457.4 1194.7 457.4 1197.8 457.3 1200.4 457.2 1202.6 457.0 1204.5 456.7 1206.2 456.4 1208.0 456.0 1209.6 455.5 1210.8 454.9 1211.8 454.2 1212.5 453.4 1213.1 452.6 1213.7 451.7 1214.3 450.9 1215.0 450.0 1215.8 449.0 1216.6 447.9 1217.3 446.6 1218.1 445.4 1218.8 444.2 1219.5 443.2 1220.3 442.4 1221.0 442.0 1221.8 441.9 1222.5 442.2 1223.2 442.6 1224.0 443.2 1224.8 444.0 1225.5 444.7 1226.2 445.4 1227.0 446.0 1227.7 446.5 1228.3 447.0 1228.8 447.5 1229.4 448.0 1230.0 448.5 1230.8 449.0 1231.8 449.5 1233.0 450.0 1234.1 450.6 1234.8 451.2 1235.4 451.8 1236.3 452.4 1237.8 453.0 1240.2 453.6 1243.8 454.1 1249.0 454.5 1255.7 454.8 1263.8 455.1 1272.9 455.3 1283.0 455.5 1293.9 455.6 1305.5 455.7 1317.6 455.9 1330.0 456.0 1343.0 456.1 1357.0 456.3 1371.6 456.4 1386.8 456.5 1402.3 456.6 1418.2 456.7 1434.1 456.9 1450.0 457.0 1466.4 457.2 1483.7 457.3 1501.4 457.5 1519.2 457.7 1536.7 457.8 1553.5 458.0 1569.0 458.3 1583.0 458.5 1595.5 458.8 1606.8 459.1 1617.2 459.5 1626.8 459.8 1635.6 460.2 1643.8 460.5 1651.6 460.8 1659.0 461.0 1665.8 461.1 1671.5 461.2 1676.6 461.2 1681.2 461.2 1685.7 461.1 1690.1 461.1 1694.8 461.0 1700.0 461.0 1705.7 461.0 1711.6 461.1 1717.8 461.3 1723.9 461.4 1730.1 461.4 1736.3 461.3 1742.2 461.0 1748.0 460.5 1753.6 459.7 1759.0 458.7 1764.3 457.4 1769.5 456.1 1774.7 454.6 1779.8 453.1 1784.9 451.5 1790.0 450.0 1795.2 448.4 1800.6 446.7 1805.9 444.9 1811.2 443.0 1816.4 441.2 1821.3 439.4 1825.9 437.6 1830.0 436.0 1833.8 434.4 1837.3 432.8 1840.5 431.2 1843.5 429.6 1846.2 428.2 1848.5 426.9 1850.4 425.8 1852.0 425.0" fill="none" stroke="#15a0b4" stroke-width="11.5" stroke-linecap="butt" stroke-linejoin="round" stroke-dasharray="9 11" stroke-dashoffset="0"/>
<path d="M1827.9 432.0 1830.4 430.7 1833.9 428.8 1838.0 426.6 1842.4 424.3 1846.7 422.3 1850.4 420.8 1853.5 419.8 1856.2 418.9 1859.0 418.4 1862.0 418.2 1865.2 418.8 1868.3 420.1 1871.2 422.3 1873.7 424.9 1876.1 427.9 1878.3 431.2 1880.2 434.6 1882.0 438.0 1883.6 441.5 1885.0 445.2 1886.2 448.9 1887.3 452.8 1888.4 456.8 1889.4 461.0 1890.4 465.9 1891.3 471.6 1892.1 477.2 1892.8 482.4 1893.6 486.3 1894.1 488.2 1893.5 487.6 1889.8 487.2 1888.7 488.0 1889.1 487.0 1889.8 484.6 1890.6 481.1 1891.4 476.5 1892.2 470.5 1893.0 463.4 1893.8 455.7 1894.6 447.7 1895.5 439.5 1896.5 431.1 1897.5 422.1 1898.5 412.8 1899.5 403.3 1900.5 393.8 1901.5 384.5 1902.5 375.2 1903.5 365.6 1904.5 356.1 1905.5 346.7 1906.5 337.8 1907.5 329.4 1908.5 321.8 1909.5 314.6 1910.6 307.9 1911.6 301.5 1912.6 295.3 1913.6 289.3 1914.6 283.3 1915.6 277.6 1916.6 272.2 1917.6 266.9 1918.6 261.9 1919.6 257.1 1920.6 252.5 1921.5 248.3 1922.5 244.3 1923.5 240.4 1924.6 236.6 1925.7 232.7 1926.9 228.5 1928.2 223.9 1929.7 219.1 1931.1 214.8 1932.8 211.1 1936.2 207.9 1942.3 209.2 1944.3 212.4 1945.4 215.7 1946.4 219.2 1947.6 222.7 1949.1 226.0 1951.0 229.7 1953.1 233.8 1955.6 238.2 1958.1 242.7 1960.8 247.2 1963.7 251.4 1966.8 255.6 1970.1 259.9 1973.6 264.2 1977.2 268.4 1980.8 272.3 1984.2 275.8 1987.4 278.9 1990.6 281.7 1993.8 284.3 1997.0 286.7 2000.2 289.0 2003.5 291.3 2006.9 293.5 2010.3 295.6 2013.7 297.5 2017.2 299.4 2020.6 301.2 2024.0 303.0 2027.4 304.6 2030.6 306.2 2033.9 307.7 2037.0 309.0 2040.2 310.2 2043.3 311.2 2046.6 312.0 2050.2 312.7 2053.9 313.3 2057.4 313.8 2060.4 314.2 2062.7 314.5" fill="none" stroke="#fee08b" stroke-width="9" stroke-linecap="butt" stroke-linejoin="round" stroke-dasharray="24 16" stroke-dashoffset="0"/>
<path d="M1832.1 440.0 1834.6 438.7 1838.1 436.7 1842.2 434.5 1846.4 432.4 1850.4 430.5 1853.6 429.2 1856.2 428.3 1858.5 427.7 1860.2 427.3 1861.5 427.2 1862.6 427.4 1863.7 427.9 1865.2 429.0 1866.9 430.8 1868.8 433.2 1870.6 436.0 1872.4 439.0 1874.0 442.0 1875.3 445.0 1876.5 448.2 1877.6 451.6 1878.7 455.2 1879.6 459.0 1880.6 463.0 1881.5 467.5 1882.4 472.9 1883.2 478.5 1884.0 483.8 1884.8 488.4 1885.9 491.8 1888.1 494.7 1893.6 495.3 1896.3 492.7 1897.6 490.0 1898.5 486.8 1899.4 482.9 1900.3 477.8 1901.1 471.5 1901.9 464.4 1902.7 456.7 1903.6 448.6 1904.5 440.5 1905.4 432.1 1906.4 423.1 1907.4 413.8 1908.4 404.3 1909.5 394.8 1910.5 385.5 1911.5 376.1 1912.5 366.6 1913.5 357.0 1914.5 347.7 1915.5 338.8 1916.5 330.6 1917.5 323.0 1918.5 315.9 1919.4 309.2 1920.4 302.9 1921.4 296.8 1922.4 290.7 1923.4 284.9 1924.4 279.2 1925.4 273.8 1926.4 268.6 1927.4 263.7 1928.4 258.9 1929.4 254.5 1930.3 250.4 1931.2 246.5 1932.2 242.7 1933.2 239.0 1934.3 235.3 1935.6 231.0 1936.9 226.4 1938.2 221.9 1939.5 218.1 1940.6 215.8 1939.8 216.1 1935.9 215.5 1936.0 215.9 1936.8 218.3 1937.8 221.9 1939.2 225.9 1940.9 230.0 1943.0 233.9 1945.2 238.1 1947.7 242.6 1950.4 247.3 1953.3 252.0 1956.3 256.6 1959.6 261.0 1963.1 265.5 1966.7 270.0 1970.5 274.4 1974.2 278.4 1977.8 282.2 1981.3 285.6 1984.8 288.6 1988.2 291.4 1991.6 293.9 1995.0 296.4 1998.5 298.7 2002.0 301.1 2005.7 303.3 2009.3 305.4 2012.9 307.4 2016.5 309.2 2020.0 311.0 2023.4 312.7 2026.8 314.4 2030.3 315.9 2033.7 317.3 2037.2 318.7 2040.7 319.8 2044.6 320.8 2048.6 321.6 2052.6 322.2 2056.2 322.7 2059.2 323.1 2061.3 323.5" fill="none" stroke="#66c2a5" stroke-width="9" stroke-linecap="butt" stroke-linejoin="round" stroke-dasharray="20 20" stroke-dashoffset="10"/>
<path d="M1901.5 482.8 1902.0 478.4 1902.7 472.4 1903.6 465.2 1904.5 457.3 1905.5 449.0 1906.5 440.7 1907.4 432.3 1908.4 423.3 1909.4 414.0 1910.4 404.5 1911.5 395.0 1912.5 385.7 1913.5 376.3 1914.5 366.8 1915.5 357.2 1916.5 347.9 1917.5 339.0 1918.4 330.8 1919.4 323.2 1920.4 316.2 1921.4 309.5 1922.4 303.2 1923.4 297.1 1924.4 291.1 1925.4 285.2 1926.4 279.6 1927.4 274.2 1928.4 269.0 1929.4 264.1 1930.4 259.4 1931.4 254.7 1932.5 250.1 1933.7 245.6 1934.7 241.6 1935.6 238.2 1936.3 235.6" fill="none" stroke="#223a4a" stroke-width="1.8" stroke-linecap="butt" stroke-linejoin="round"/>
<path d="M1830.0 436.0 1831.8 435.1 1834.1 433.8 1837.0 432.2 1840.1 430.6 1843.4 428.9 1846.5 427.3 1849.5 426.0 1852.0 425.0 1854.1 424.3 1856.1 423.6 1857.9 423.1 1859.6 422.8 1861.2 422.7 1862.8 422.8 1864.4 423.2 1866.0 424.0 1867.6 425.1 1869.3 426.7 1870.9 428.5 1872.4 430.6 1874.0 432.8 1875.4 435.2 1876.8 437.6 1878.0 440.0 1879.1 442.4 1880.1 444.9 1881.1 447.5 1881.9 450.2 1882.7 453.0 1883.5 455.9 1884.3 458.9 1885.0 462.0 1885.7 465.5 1886.4 469.4 1887.0 473.6 1887.6 477.9 1888.2 481.9 1888.8 485.4 1889.4 488.2 1890.0 490.0 1890.6 491.0 1891.2 491.3 1891.9 491.1 1892.5 490.4 1893.1 489.1 1893.8 487.2 1894.4 484.9 1895.0 482.0 1895.6 478.5 1896.2 474.2 1896.8 469.3 1897.4 463.9 1898.1 458.2 1898.7 452.2 1899.3 446.1 1900.0 440.0 1900.7 433.7 1901.4 427.2 1902.2 420.3 1902.9 413.3 1903.7 406.2 1904.5 399.1 1905.2 392.0 1906.0 385.0 1906.8 378.0 1907.5 370.9 1908.2 363.7 1909.0 356.6 1909.8 349.5 1910.5 342.7 1911.2 336.2 1912.0 330.0 1912.8 324.2 1913.5 318.8 1914.2 313.5 1915.0 308.6 1915.8 303.8 1916.5 299.1 1917.2 294.5 1918.0 290.0 1918.8 285.6 1919.5 281.2 1920.2 277.1 1921.0 273.0 1921.8 269.1 1922.5 265.2 1923.2 261.6 1924.0 258.0 1924.7 254.6 1925.5 251.4 1926.2 248.3 1926.9 245.4 1927.6 242.5 1928.4 239.7 1929.2 236.8 1930.0 234.0 1930.9 230.9 1931.9 227.5 1932.9 223.9 1933.9 220.5 1935.0 217.4 1936.0 214.8 1937.0 212.9 1938.0 212.0 1938.9 212.1 1939.6 213.1 1940.3 214.8 1941.1 217.0 1941.8 219.6 1942.7 222.4 1943.7 225.3 1945.0 228.0 1946.5 230.8 1948.0 233.8 1949.8 237.1 1951.6 240.4 1953.6 243.9 1955.6 247.3 1957.8 250.7 1960.0 254.0 1962.3 257.2 1964.9 260.5 1967.5 263.8 1970.2 267.1 1972.9 270.3 1975.7 273.4 1978.4 276.3 1981.0 279.0 1983.5 281.5 1986.0 283.7 1988.5 285.8 1991.0 287.8 1993.5 289.7 1996.0 291.5 1998.5 293.3 2001.0 295.0 2003.6 296.7 2006.2 298.4 2008.8 299.9 2011.5 301.5 2014.2 302.9 2016.8 304.3 2019.4 305.7 2022.0 307.0 2024.5 308.3 2027.1 309.5 2029.6 310.7 2032.1 311.8 2034.5 312.8 2037.0 313.8 2039.5 314.7 2042.0 315.5 2044.6 316.2 2047.5 316.8 2050.4 317.3 2053.2 317.8 2056.0 318.2 2058.4 318.5 2060.5 318.8 2062.0 319.0" fill="none" stroke="#abdda4" stroke-width="10.5" stroke-linecap="butt" stroke-linejoin="round"/>
<path d="M1830.0 436.0 1831.8 435.1 1834.1 433.8 1837.0 432.2 1840.1 430.6 1843.4 428.9 1846.5 427.3 1849.5 426.0 1852.0 425.0 1854.1 424.3 1856.1 423.6 1857.9 423.1 1859.6 422.8 1861.2 422.7 1862.8 422.8 1864.4 423.2 1866.0 424.0 1867.6 425.1 1869.3 426.7 1870.9 428.5 1872.4 430.6 1874.0 432.8 1875.4 435.2 1876.8 437.6 1878.0 440.0 1879.1 442.4 1880.1 444.9 1881.1 447.5 1881.9 450.2 1882.7 453.0 1883.5 455.9 1884.3 458.9 1885.0 462.0 1885.7 465.5 1886.4 469.4 1887.0 473.6 1887.6 477.9 1888.2 481.9 1888.8 485.4 1889.4 488.2 1890.0 490.0 1890.6 491.0 1891.2 491.3 1891.9 491.1 1892.5 490.4 1893.1 489.1 1893.8 487.2 1894.4 484.9 1895.0 482.0 1895.6 478.5 1896.2 474.2 1896.8 469.3 1897.4 463.9 1898.1 458.2 1898.7 452.2 1899.3 446.1 1900.0 440.0 1900.7 433.7 1901.4 427.2 1902.2 420.3 1902.9 413.3 1903.7 406.2 1904.5 399.1 1905.2 392.0 1906.0 385.0 1906.8 378.0 1907.5 370.9 1908.2 363.7 1909.0 356.6 1909.8 349.5 1910.5 342.7 1911.2 336.2 1912.0 330.0 1912.8 324.2 1913.5 318.8 1914.2 313.5 1915.0 308.6 1915.8 303.8 1916.5 299.1 1917.2 294.5 1918.0 290.0 1918.8 285.6 1919.5 281.2 1920.2 277.1 1921.0 273.0 1921.8 269.1 1922.5 265.2 1923.2 261.6 1924.0 258.0 1924.7 254.6 1925.5 251.4 1926.2 248.3 1926.9 245.4 1927.6 242.5 1928.4 239.7 1929.2 236.8 1930.0 234.0 1930.9 230.9 1931.9 227.5 1932.9 223.9 1933.9 220.5 1935.0 217.4 1936.0 214.8 1937.0 212.9 1938.0 212.0 1938.9 212.1 1939.6 213.1 1940.3 214.8 1941.1 217.0 1941.8 219.6 1942.7 222.4 1943.7 225.3 1945.0 228.0 1946.5 230.8 1948.0 233.8 1949.8 237.1 1951.6 240.4 1953.6 243.9 1955.6 247.3 1957.8 250.7 1960.0 254.0 1962.3 257.2 1964.9 260.5 1967.5 263.8 1970.2 267.1 1972.9 270.3 1975.7 273.4 1978.4 276.3 1981.0 279.0 1983.5 281.5 1986.0 283.7 1988.5 285.8 1991.0 287.8 1993.5 289.7 1996.0 291.5 1998.5 293.3 2001.0 295.0 2003.6 296.7 2006.2 298.4 2008.8 299.9 2011.5 301.5 2014.2 302.9 2016.8 304.3 2019.4 305.7 2022.0 307.0 2024.5 308.3 2027.1 309.5 2029.6 310.7 2032.1 311.8 2034.5 312.8 2037.0 313.8 2039.5 314.7 2042.0 315.5 2044.6 316.2 2047.5 316.8 2050.4 317.3 2053.2 317.8 2056.0 318.2 2058.4 318.5 2060.5 318.8 2062.0 319.0" fill="none" stroke="#66c2a5" stroke-width="10.5" stroke-linecap="butt" stroke-linejoin="round" stroke-dasharray="12 28" stroke-dashoffset="8"/>
<path d="M1830.0 436.0 1831.8 435.1 1834.1 433.8 1837.0 432.2 1840.1 430.6 1843.4 428.9 1846.5 427.3 1849.5 426.0 1852.0 425.0 1854.1 424.3 1856.1 423.6 1857.9 423.1 1859.6 422.8 1861.2 422.7 1862.8 422.8 1864.4 423.2 1866.0 424.0 1867.6 425.1 1869.3 426.7 1870.9 428.5 1872.4 430.6 1874.0 432.8 1875.4 435.2 1876.8 437.6 1878.0 440.0 1879.1 442.4 1880.1 444.9 1881.1 447.5 1881.9 450.2 1882.7 453.0 1883.5 455.9 1884.3 458.9 1885.0 462.0 1885.7 465.5 1886.4 469.4 1887.0 473.6 1887.6 477.9 1888.2 481.9 1888.8 485.4 1889.4 488.2 1890.0 490.0 1890.6 491.0 1891.2 491.3 1891.9 491.1 1892.5 490.4 1893.1 489.1 1893.8 487.2 1894.4 484.9 1895.0 482.0 1895.6 478.5 1896.2 474.2 1896.8 469.3 1897.4 463.9 1898.1 458.2 1898.7 452.2 1899.3 446.1 1900.0 440.0 1900.7 433.7 1901.4 427.2 1902.2 420.3 1902.9 413.3 1903.7 406.2 1904.5 399.1 1905.2 392.0 1906.0 385.0 1906.8 378.0 1907.5 370.9 1908.2 363.7 1909.0 356.6 1909.8 349.5 1910.5 342.7 1911.2 336.2 1912.0 330.0 1912.8 324.2 1913.5 318.8 1914.2 313.5 1915.0 308.6 1915.8 303.8 1916.5 299.1 1917.2 294.5 1918.0 290.0 1918.8 285.6 1919.5 281.2 1920.2 277.1 1921.0 273.0 1921.8 269.1 1922.5 265.2 1923.2 261.6 1924.0 258.0 1924.7 254.6 1925.5 251.4 1926.2 248.3 1926.9 245.4 1927.6 242.5 1928.4 239.7 1929.2 236.8 1930.0 234.0 1930.9 230.9 1931.9 227.5 1932.9 223.9 1933.9 220.5 1935.0 217.4 1936.0 214.8 1937.0 212.9 1938.0 212.0 1938.9 212.1 1939.6 213.1 1940.3 214.8 1941.1 217.0 1941.8 219.6 1942.7 222.4 1943.7 225.3 1945.0 228.0 1946.5 230.8 1948.0 233.8 1949.8 237.1 1951.6 240.4 1953.6 243.9 1955.6 247.3 1957.8 250.7 1960.0 254.0 1962.3 257.2 1964.9 260.5 1967.5 263.8 1970.2 267.1 1972.9 270.3 1975.7 273.4 1978.4 276.3 1981.0 279.0 1983.5 281.5 1986.0 283.7 1988.5 285.8 1991.0 287.8 1993.5 289.7 1996.0 291.5 1998.5 293.3 2001.0 295.0 2003.6 296.7 2006.2 298.4 2008.8 299.9 2011.5 301.5 2014.2 302.9 2016.8 304.3 2019.4 305.7 2022.0 307.0 2024.5 308.3 2027.1 309.5 2029.6 310.7 2032.1 311.8 2034.5 312.8 2037.0 313.8 2039.5 314.7 2042.0 315.5 2044.6 316.2 2047.5 316.8 2050.4 317.3 2053.2 317.8 2056.0 318.2 2058.4 318.5 2060.5 318.8 2062.0 319.0" fill="none" stroke="#f46d43" stroke-width="6" stroke-linecap="butt" stroke-linejoin="round" stroke-dasharray="6 34" stroke-dashoffset="20" stroke-opacity="0.7"/>
<path d="M1790.0 447.0 1793.3 446.5 1797.8 445.8 1803.2 444.8 1809.1 443.9 1815.1 443.0 1820.8 442.3 1825.9 441.9 1830.0 442.0 1833.1 442.5 1835.6 443.3 1837.7 444.4 1839.4 445.7 1840.8 447.2 1842.2 448.7 1843.5 450.4 1845.0 452.0 1846.5 453.7 1847.9 455.4 1849.2 457.3 1850.5 459.2 1851.7 461.3 1852.8 463.4 1853.9 465.7 1855.0 468.0 1856.0 470.4 1857.0 473.0 1857.8 475.7 1858.7 478.4 1859.5 481.3 1860.3 484.1 1861.1 487.1 1862.0 490.0 1862.9 493.3 1863.8 497.2 1864.8 501.4 1865.7 505.4 1866.6 509.2 1867.5 512.2 1868.3 514.2 1869.0 515.0 1869.6 514.4 1870.2 512.6 1870.7 509.9 1871.2 506.6 1871.6 502.7 1872.1 498.5 1872.5 494.2 1873.0 490.0 1873.5 485.7 1874.0 481.0 1874.5 475.9 1875.1 470.7 1875.6 465.4 1876.1 460.1 1876.5 454.9 1877.0 450.0 1877.4 445.5 1877.7 441.3 1878.0 437.3 1878.2 433.2 1878.6 429.1 1878.9 424.6 1879.4 419.6 1880.0 414.0 1880.8 407.5 1881.7 400.3 1882.7 392.5 1883.8 384.4 1884.9 376.2 1886.0 368.3 1887.0 360.8 1888.0 354.0 1889.0 347.7 1889.9 341.6 1890.9 335.8 1891.8 330.3 1892.7 325.1 1893.6 320.3 1894.3 315.9 1895.0 312.0 1895.6 308.7 1896.0 306.1 1896.4 304.0 1896.7 302.2 1897.0 300.6 1897.3 298.9 1897.6 297.1 1898.0 295.0 1898.5 292.6 1899.0 290.0 1899.5 287.4 1900.0 284.7 1900.6 282.0 1901.1 279.3 1901.6 276.6 1902.0 274.0 1902.4 271.4 1902.7 268.9 1902.9 266.4 1903.2 263.8 1903.4 261.3 1903.7 258.9 1904.1 256.4 1904.5 254.0 1905.0 251.5 1905.5 248.9 1906.1 246.3 1906.8 243.8 1907.4 241.3 1908.1 239.1 1908.8 237.1 1909.5 235.5 1910.2 234.2 1911.0 233.1 1911.8 232.3 1912.7 231.7 1913.5 231.3 1914.3 231.1 1915.2 231.0 1916.0 231.0 1916.8 231.2 1917.5 231.6 1918.2 232.1 1918.9 232.8 1919.6 233.6 1920.5 234.6 1921.4 235.7 1922.5 237.0 1923.8 238.5 1925.3 240.1 1926.9 242.0 1928.5 244.0 1930.2 246.1 1931.9 248.1 1933.5 250.1 1935.0 252.0 1936.3 253.8 1937.6 255.5 1938.8 257.1 1939.9 258.8 1941.1 260.5 1942.3 262.2 1943.6 264.0 1945.0 266.0 1946.6 268.1 1948.2 270.5 1949.9 272.9 1951.7 275.4 1953.5 277.8 1955.3 280.2 1957.2 282.5 1959.0 284.6 1960.8 286.5 1962.6 288.3 1964.5 290.0 1966.3 291.6 1968.2 293.1 1970.1 294.6 1972.0 296.1 1974.0 297.6 1976.0 299.1 1978.1 300.5 1980.2 301.9 1982.3 303.3 1984.4 304.6 1986.6 306.0 1988.8 307.3 1991.0 308.6 1993.2 309.9 1995.5 311.3 1997.8 312.6 2000.2 313.9 2002.5 315.2 2004.8 316.4 2007.2 317.6 2009.5 318.8 2011.8 319.9 2014.1 321.0 2016.4 322.1 2018.7 323.1 2021.0 324.1 2023.3 325.1 2025.7 326.0 2028.0 327.0 2030.4 328.0 2032.8 328.9 2035.3 329.8 2037.7 330.8 2040.1 331.6 2042.5 332.5 2044.8 333.3 2047.0 334.0 2049.2 334.7 2051.4 335.3 2053.6 335.9 2055.7 336.4 2057.6 336.9 2059.4 337.4 2060.9 337.7 2062.0 338.0" fill="none" stroke="#15a0b4" stroke-width="10" stroke-linecap="butt" stroke-linejoin="round" stroke-dasharray="9 11" stroke-dashoffset="0"/>
<path d="M1918.0 300.0 1918.6 296.1 1919.5 290.9 1920.5 284.7 1921.6 277.8 1922.7 270.6 1923.9 263.3 1925.0 256.4 1926.0 250.0 1926.9 243.9 1927.9 237.7 1928.8 231.5 1929.7 225.4 1930.6 219.6 1931.4 214.2 1932.3 209.3 1933.0 205.0 1933.7 201.3 1934.3 198.0 1934.9 195.1 1935.4 192.6 1935.9 190.7 1936.4 189.2 1937.0 188.3 1937.5 188.0 1938.1 188.5 1938.6 189.8 1939.1 191.8 1939.7 194.2 1940.2 196.9 1940.8 199.7 1941.4 202.5 1942.0 205.0 1942.7 207.5 1943.5 210.3 1944.4 213.2 1945.3 216.1 1946.1 218.8 1946.9 221.3 1947.5 223.4 1948.0 225.0" fill="none" stroke="#fee08b" stroke-width="9" stroke-linecap="butt" stroke-linejoin="round"/>
<path d="M1911.5 476.0 1917.7 521.0" fill="none" stroke="#15a0b4" stroke-width="10" stroke-linecap="butt" stroke-linejoin="round"/>
<path d="M1923.8 415.0 1921.7 452.0" fill="none" stroke="#15a0b4" stroke-width="10" stroke-linecap="butt" stroke-linejoin="round"/>
<path d="M1935.0 335.0 1930.0 370.0" fill="none" stroke="#15a0b4" stroke-width="10" stroke-linecap="butt" stroke-linejoin="round"/>
<path d="M1946.0 258.0 1941.0 292.0" fill="none" stroke="#15a0b4" stroke-width="10" stroke-linecap="butt" stroke-linejoin="round"/>
<path d="M1953.0 206.0 1953.7 205.6 1954.6 204.9 1955.7 204.1 1956.9 203.3 1958.2 202.6 1959.5 202.3 1960.8 202.3 1962.0 203.0 1963.3 204.5 1964.7 206.6 1966.1 209.3 1967.6 212.3 1968.9 215.3 1970.2 218.1 1971.2 220.4 1972.0 222.0" fill="none" stroke="#15a0b4" stroke-width="10" stroke-linecap="butt" stroke-linejoin="round"/>
<path d="M1995.0 261.6 2021.0 284.0" fill="none" stroke="#15a0b4" stroke-width="10" stroke-linecap="butt" stroke-linejoin="round"/>
<path d="M2052.0 300.0 2062.0 304.0" fill="none" stroke="#15a0b4" stroke-width="10" stroke-linecap="butt" stroke-linejoin="round"/>
</g>
<g clip-path="url(#clipB)">
<path d="M276.9 1035.6 287.7 1035.2 302.6 1034.6 320.3 1033.9 339.3 1033.3 358.3 1032.9 376.0 1033.0 392.5 1033.4 409.1 1034.2 425.7 1035.1 442.4 1036.3 459.0 1037.7 475.7 1039.3 492.4 1041.1 509.1 1043.2 525.9 1045.6 542.6 1048.0 559.4 1050.5 576.2 1053.0 592.6 1055.4 608.7 1057.8 624.8 1060.3 641.3 1062.8 658.3 1065.3 676.4 1068.0 695.5 1070.8 715.6 1073.7 736.3 1076.7 757.4 1079.7 778.6 1082.5 799.7 1085.0 820.9 1087.3 842.6 1089.5 864.5 1091.6 886.0 1093.4 906.8 1094.9 926.6 1096.0 945.9 1096.6 965.1 1096.7 983.6 1096.5 1000.8 1096.1 1015.8 1095.5 1028.2 1095.0 1037.2 1094.4 1043.5 1093.5 1047.7 1092.6 1050.7 1091.6 1053.0 1090.7 1055.7 1089.9 1058.9 1089.3 1061.7 1088.7 1064.3 1088.1 1066.7 1087.5 1069.0 1086.7 1071.3 1085.7 1073.7 1084.3 1075.8 1082.8 1077.6 1081.2 1079.3 1079.6 1080.7 1078.3 1081.9 1077.3 1083.1 1076.4 1084.1 1075.5 1084.8 1074.9 1085.0 1074.7 1084.3 1074.8 1083.7 1074.7 1083.7 1074.7 1083.8 1074.8 1084.0 1075.1 1084.3 1076.1 1084.7 1077.8 1085.0 1080.3 1085.4 1084.0 1085.6 1088.5 1085.9 1093.8 1086.1 1099.3 1086.3 1104.9 1086.5 1110.1 1086.7 1115.3 1086.9 1120.7 1087.0 1126.1 1087.1 1131.3 1087.3 1136.0 1087.5 1140.2 1087.7 1143.7 1088.0 1146.7 1088.3 1149.2 1088.6 1151.4 1088.9 1153.1 1089.0 1154.4" fill="none" stroke="#1d1d3a" stroke-width="8" stroke-linecap="butt" stroke-linejoin="round" stroke-dasharray="40 40" stroke-dashoffset="0"/>
<path d="M675.9 1070.9 689.3 1072.9 707.7 1075.6 729.6 1078.8 753.3 1082.1 777.1 1085.3 799.3 1088.0 820.6 1090.3 842.3 1092.5 864.2 1094.6 885.8 1096.4 906.6 1097.9 926.4 1099.0 945.8 1099.6 965.1 1099.7 983.7 1099.5 1000.9 1099.1 1015.9 1098.5 1028.3 1098.0 1037.5 1097.4 1044.0 1096.5 1048.5 1095.5 1051.7 1094.4 1053.9 1093.5 1056.5 1092.8 1059.8 1092.1 1063.0 1091.2 1065.8 1090.5 1068.2 1089.8 1070.2 1089.2 1071.6 1088.8" fill="none" stroke="#f46d43" stroke-width="8" stroke-linecap="butt" stroke-linejoin="round" stroke-dasharray="9 11" stroke-dashoffset="5" stroke-opacity="0.8"/>
<path d="M276.8 1032.6 284.4 1032.3 294.6 1031.9 306.7 1031.4 320.2 1030.9 334.4 1030.4 348.8 1030.1 362.9 1029.9 376.0 1030.0 388.5 1030.3 400.9 1030.8 413.4 1031.4 425.9 1032.1 438.4 1033.0 450.9 1034.0 463.5 1035.1 476.0 1036.3 488.5 1037.6 501.1 1039.2 513.7 1040.8 526.3 1042.6 538.9 1044.4 551.5 1046.3 564.0 1048.2 576.6 1050.0 589.0 1051.8 601.1 1053.6 613.2 1055.4 625.3 1057.3 637.6 1059.2 650.1 1061.1 663.2 1063.0 676.8 1065.0 691.1 1067.1 705.9 1069.2 721.2 1071.5 736.7 1073.8 752.5 1076.0 768.4 1078.1 784.3 1080.1 800.0 1082.0 815.8 1083.7 832.0 1085.5 848.4 1087.1 864.7 1088.6 880.9 1090.0 896.7 1091.2 912.1 1092.2 926.7 1093.0 941.1 1093.5 955.6 1093.7 969.8 1093.7 983.6 1093.5 996.6 1093.2 1008.5 1092.8 1019.1 1092.4 1028.0 1092.0 1035.0 1091.6 1040.3 1091.0 1044.1 1090.4 1046.9 1089.7 1049.0 1089.0 1050.8 1088.3 1052.7 1087.6 1055.0 1087.0 1057.5 1086.5 1059.7 1086.0 1061.7 1085.6 1063.6 1085.2 1065.3 1084.7 1066.9 1084.3 1068.4 1083.7 1070.0 1083.0 1071.5 1082.2 1073.0 1081.2 1074.3 1080.1 1075.6 1078.9 1076.8 1077.8 1078.0 1076.7 1079.0 1075.8 1080.0 1075.0 1080.9 1074.3 1081.6 1073.6 1082.3 1073.0 1082.9 1072.5 1083.5 1072.1 1084.0 1071.9 1084.5 1071.8 1085.0 1072.0 1085.5 1072.3 1085.9 1072.7 1086.3 1073.2 1086.7 1073.9 1087.1 1074.9 1087.4 1076.2 1087.7 1077.9 1088.0 1080.0 1088.3 1082.7 1088.5 1086.0 1088.7 1089.6 1088.9 1093.6 1089.0 1097.8 1089.2 1102.0 1089.3 1106.1 1089.5 1110.0 1089.6 1113.9 1089.8 1117.9 1089.9 1122.0 1090.0 1126.0 1090.1 1129.9 1090.2 1133.6 1090.4 1137.0 1090.5 1140.0 1090.7 1142.6 1090.9 1145.0 1091.1 1147.0 1091.3 1148.9 1091.5 1150.5 1091.7 1151.9 1091.9 1153.0 1092.0 1154.0" fill="none" stroke="#4a62ae" stroke-width="11.5" stroke-linecap="round" stroke-linejoin="round"/>
<path d="M276.8 1032.6 284.4 1032.3 294.6 1031.9 306.7 1031.4 320.2 1030.9 334.4 1030.4 348.8 1030.1 362.9 1029.9 376.0 1030.0 388.5 1030.3 400.9 1030.8 413.4 1031.4 425.9 1032.1 438.4 1033.0 450.9 1034.0 463.5 1035.1 476.0 1036.3 488.5 1037.6 501.1 1039.2 513.7 1040.8 526.3 1042.6 538.9 1044.4 551.5 1046.3 564.0 1048.2 576.6 1050.0 589.0 1051.8 601.1 1053.6 613.2 1055.4 625.3 1057.3 637.6 1059.2 650.1 1061.1 663.2 1063.0 676.8 1065.0 691.1 1067.1 705.9 1069.2 721.2 1071.5 736.7 1073.8 752.5 1076.0 768.4 1078.1 784.3 1080.1 800.0 1082.0 815.8 1083.7 832.0 1085.5 848.4 1087.1 864.7 1088.6 880.9 1090.0 896.7 1091.2 912.1 1092.2 926.7 1093.0 941.1 1093.5 955.6 1093.7 969.8 1093.7 983.6 1093.5 996.6 1093.2 1008.5 1092.8 1019.1 1092.4 1028.0 1092.0 1035.0 1091.6 1040.3 1091.0 1044.1 1090.4 1046.9 1089.7 1049.0 1089.0 1050.8 1088.3 1052.7 1087.6 1055.0 1087.0 1057.5 1086.5 1059.7 1086.0 1061.7 1085.6 1063.6 1085.2 1065.3 1084.7 1066.9 1084.3 1068.4 1083.7 1070.0 1083.0 1071.5 1082.2 1073.0 1081.2 1074.3 1080.1 1075.6 1078.9 1076.8 1077.8 1078.0 1076.7 1079.0 1075.8 1080.0 1075.0 1080.9 1074.3 1081.6 1073.6 1082.3 1073.0 1082.9 1072.5 1083.5 1072.1 1084.0 1071.9 1084.5 1071.8 1085.0 1072.0 1085.5 1072.3 1085.9 1072.7 1086.3 1073.2 1086.7 1073.9 1087.1 1074.9 1087.4 1076.2 1087.7 1077.9 1088.0 1080.0 1088.3 1082.7 1088.5 1086.0 1088.7 1089.6 1088.9 1093.6 1089.0 1097.8 1089.2 1102.0 1089.3 1106.1 1089.5 1110.0 1089.6 1113.9 1089.8 1117.9 1089.9 1122.0 1090.0 1126.0 1090.1 1129.9 1090.2 1133.6 1090.4 1137.0 1090.5 1140.0 1090.7 1142.6 1090.9 1145.0 1091.1 1147.0 1091.3 1148.9 1091.5 1150.5 1091.7 1151.9 1091.9 1153.0 1092.0 1154.0" fill="none" stroke="#3a8fc0" stroke-width="11.5" stroke-linecap="butt" stroke-linejoin="round" stroke-dasharray="10 10" stroke-dashoffset="3"/>
<path d="M276.8 1032.6 284.4 1032.3 294.6 1031.9 306.7 1031.4 320.2 1030.9 334.4 1030.4 348.8 1030.1 362.9 1029.9 376.0 1030.0 388.5 1030.3 400.9 1030.8 413.4 1031.4 425.9 1032.1 438.4 1033.0 450.9 1034.0 463.5 1035.1 476.0 1036.3 488.5 1037.6 501.1 1039.2 513.7 1040.8 526.3 1042.6 538.9 1044.4 551.5 1046.3 564.0 1048.2 576.6 1050.0 589.0 1051.8 601.1 1053.6 613.2 1055.4 625.3 1057.3 637.6 1059.2 650.1 1061.1 663.2 1063.0 676.8 1065.0 691.1 1067.1 705.9 1069.2 721.2 1071.5 736.7 1073.8 752.5 1076.0 768.4 1078.1 784.3 1080.1 800.0 1082.0 815.8 1083.7 832.0 1085.5 848.4 1087.1 864.7 1088.6 880.9 1090.0 896.7 1091.2 912.1 1092.2 926.7 1093.0 941.1 1093.5 955.6 1093.7 969.8 1093.7 983.6 1093.5 996.6 1093.2 1008.5 1092.8 1019.1 1092.4 1028.0 1092.0 1035.0 1091.6 1040.3 1091.0 1044.1 1090.4 1046.9 1089.7 1049.0 1089.0 1050.8 1088.3 1052.7 1087.6 1055.0 1087.0 1057.5 1086.5 1059.7 1086.0 1061.7 1085.6 1063.6 1085.2 1065.3 1084.7 1066.9 1084.3 1068.4 1083.7 1070.0 1083.0 1071.5 1082.2 1073.0 1081.2 1074.3 1080.1 1075.6 1078.9 1076.8 1077.8 1078.0 1076.7 1079.0 1075.8 1080.0 1075.0 1080.9 1074.3 1081.6 1073.6 1082.3 1073.0 1082.9 1072.5 1083.5 1072.1 1084.0 1071.9 1084.5 1071.8 1085.0 1072.0 1085.5 1072.3 1085.9 1072.7 1086.3 1073.2 1086.7 1073.9 1087.1 1074.9 1087.4 1076.2 1087.7 1077.9 1088.0 1080.0 1088.3 1082.7 1088.5 1086.0 1088.7 1089.6 1088.9 1093.6 1089.0 1097.8 1089.2 1102.0 1089.3 1106.1 1089.5 1110.0 1089.6 1113.9 1089.8 1117.9 1089.9 1122.0 1090.0 1126.0 1090.1 1129.9 1090.2 1133.6 1090.4 1137.0 1090.5 1140.0 1090.7 1142.6 1090.9 1145.0 1091.1 1147.0 1091.3 1148.9 1091.5 1150.5 1091.7 1151.9 1091.9 1153.0 1092.0 1154.0" fill="none" stroke="#15a0b4" stroke-width="11.5" stroke-linecap="butt" stroke-linejoin="round" stroke-dasharray="9 11" stroke-dashoffset="0"/>
<path d="M1630.7 1059.7 1639.0 1055.9 1650.4 1050.8 1663.9 1044.7 1678.5 1038.0 1693.0 1031.1 1706.3 1024.4 1719.2 1017.5 1732.6 1010.0 1746.0 1002.2 1759.0 994.6 1771.2 987.5 1782.1 981.4 1791.7 976.3 1800.2 971.9 1807.8 968.0 1814.6 964.7 1820.8 961.7 1826.4 958.8 1831.6 956.2 1836.2 953.9 1840.2 951.9 1843.6 950.3 1846.3 948.9 1848.4 947.8" fill="none" stroke="#f46d43" stroke-width="8" stroke-linecap="butt" stroke-linejoin="round" stroke-dasharray="8 32" stroke-dashoffset="13" stroke-opacity="0.8"/>
<path d="M1631.1 1060.6 1639.4 1056.8 1650.8 1051.7 1664.3 1045.6 1678.9 1038.9 1693.4 1032.0 1706.8 1025.3 1719.7 1018.4 1733.0 1010.8 1746.5 1003.1 1759.5 995.5 1771.7 988.4 1782.6 982.3 1792.2 977.1 1800.7 972.7 1808.3 968.9 1815.1 965.6 1821.2 962.6 1826.9 959.7 1832.0 957.1 1836.6 954.8 1840.6 952.8 1844.0 951.2 1846.7 949.8 1848.9 948.7" fill="none" stroke="#15a0b4" stroke-width="9" stroke-linecap="butt" stroke-linejoin="round" stroke-dasharray="9 11" stroke-dashoffset="3"/>
<path d="M1637.3 1074.3 1645.6 1070.5 1657.0 1065.4 1670.6 1059.2 1685.2 1052.5 1700.0 1045.5 1713.7 1038.6 1726.9 1031.5 1740.5 1023.9 1754.0 1016.0 1767.1 1008.4 1779.2 1001.4 1789.9 995.4 1799.2 990.4 1807.5 986.1 1814.9 982.4 1821.7 979.0 1827.9 976.0 1833.6 973.2 1838.8 970.5 1843.4 968.2 1847.3 966.3 1850.7 964.6 1853.4 963.2 1855.6 962.2" fill="none" stroke="#66c2a5" stroke-width="9" stroke-linecap="butt" stroke-linejoin="round" stroke-dasharray="20 20" stroke-dashoffset="0"/>
<path d="M1714.5 1039.3 1723.1 1034.4 1735.4 1027.4 1749.7 1019.2 1764.7 1010.7 1778.7 1002.7 1790.3 996.3 1799.6 991.3 1807.9 987.0 1815.4 983.2 1822.1 979.9 1828.3 976.9 1834.0 974.0 1839.2 971.4 1843.8 969.1 1847.8 967.2 1851.1 965.5 1853.9 964.1 1856.0 963.1" fill="none" stroke="#2f8da0" stroke-width="6" stroke-linecap="butt" stroke-linejoin="round" stroke-dasharray="14 26" stroke-dashoffset="0"/>
<path d="M1255.6 1098.6 1263.4 1098.1 1273.8 1097.4 1286.3 1096.6 1300.2 1095.8 1314.9 1094.9 1329.7 1094.0 1345.0 1093.2 1361.4 1092.4 1378.5 1091.6 1396.0 1090.7 1413.5 1089.8 1430.6 1088.8 1447.6 1087.8 1464.5 1086.9 1481.5 1085.9 1498.3 1084.8 1515.1 1083.3 1531.9 1081.3 1549.7 1078.4 1569.1 1074.8 1588.5 1070.8 1606.5 1066.8 1621.7 1063.5 1632.8 1061.1" fill="none" stroke="#f46d43" stroke-width="8" stroke-linecap="butt" stroke-linejoin="round" stroke-dasharray="30 30" stroke-dashoffset="10" stroke-opacity="0.85"/>
<path d="M1105.5 1135.3 1106.2 1133.8 1107.0 1131.7 1108.0 1129.4 1109.0 1127.1 1110.0 1124.9 1111.0 1123.3 1112.1 1121.8 1113.2 1120.3 1114.3 1119.1 1115.4 1118.0 1116.6 1117.1 1118.1 1116.1 1119.7 1115.2 1120.7 1114.6 1121.5 1114.3 1122.9 1113.9 1125.6 1113.5 1129.9 1113.0 1136.3 1112.6 1144.7 1112.3 1154.2 1112.0 1163.9 1111.7 1173.0 1111.3 1180.8 1110.5 1187.2 1109.4 1192.9 1107.9 1197.7 1106.3 1201.7 1104.7 1204.8 1103.5 1207.1 1102.6" fill="none" stroke="#f46d43" stroke-width="8" stroke-linecap="butt" stroke-linejoin="round" stroke-dasharray="9 11" stroke-dashoffset="0" stroke-opacity="0.8"/>
<path d="M1256.4 1110.6 1264.1 1110.1 1274.6 1109.4 1287.1 1108.6 1301.0 1107.7 1315.6 1106.8 1330.3 1106.0 1345.6 1105.2 1361.9 1104.4 1379.1 1103.6 1396.6 1102.7 1414.1 1101.8 1431.4 1100.8 1448.2 1099.8 1465.2 1098.9 1482.2 1097.9 1499.3 1096.7 1516.4 1095.2 1533.5 1093.1 1551.8 1090.2 1571.4 1086.5 1591.0 1082.5 1609.0 1078.6 1624.3 1075.2 1635.2 1072.9" fill="none" stroke="#f46d43" stroke-width="8" stroke-linecap="butt" stroke-linejoin="round" stroke-dasharray="9 11" stroke-dashoffset="0" stroke-opacity="0.8"/>
<path d="M1094.2 1155.2 1094.5 1154.7 1094.9 1154.0 1095.4 1153.1 1096.0 1152.0 1096.6 1150.6 1097.3 1148.9 1098.1 1146.8 1098.9 1144.3 1099.7 1141.7 1100.6 1139.0 1101.4 1136.3 1102.3 1133.9 1103.2 1131.6 1104.1 1129.3 1105.0 1127.1 1106.0 1125.1 1107.0 1123.2 1108.1 1121.4 1109.3 1119.7 1110.5 1118.1 1111.8 1116.7 1113.1 1115.4 1114.6 1114.2 1116.3 1113.1 1117.9 1112.2 1119.2 1111.5 1120.4 1111.0 1122.2 1110.5 1125.2 1110.0 1129.6 1109.5 1136.2 1109.1 1144.6 1108.8 1154.1 1108.5 1163.8 1108.2 1172.8 1107.8 1180.3 1107.1 1186.3 1106.1 1191.5 1104.8 1196.0 1103.4 1199.8 1101.9 1203.1 1100.5 1206.0 1099.3 1208.5 1098.1 1210.5 1096.8 1212.0 1095.6 1213.0 1094.5 1213.8 1093.6 1214.7 1092.9 1215.8 1091.8 1216.8 1090.7 1217.6 1089.8 1218.1 1089.3 1217.7 1089.3 1216.7 1089.2 1216.7 1089.2 1217.1 1090.1 1217.7 1091.5 1218.3 1093.3 1219.0 1095.2 1219.6 1096.7 1219.9 1097.9 1219.9 1099.5 1219.9 1101.6 1220.5 1104.1 1222.3 1106.5 1225.3 1107.9 1228.8 1108.5 1232.5 1108.6 1236.8 1108.4 1242.0 1108.1 1248.3 1107.6 1256.1 1107.1 1265.6 1106.5 1276.6 1105.9 1288.7 1105.1 1301.9 1104.2 1315.7 1103.3 1330.1 1102.5 1345.4 1101.7 1361.8 1100.9 1378.9 1100.1 1396.4 1099.2 1414.0 1098.3 1431.1 1097.3 1448.1 1096.3 1465.0 1095.4 1482.0 1094.4 1499.0 1093.2 1516.0 1091.7 1533.0 1089.7 1550.3 1087.2 1567.8 1084.4 1585.4 1081.3 1602.7 1077.8 1619.2 1073.8 1634.8 1069.4 1649.0 1064.4 1662.2 1058.9 1674.7 1052.9 1686.8 1046.7 1698.8 1040.2 1711.2 1033.7 1724.2 1026.7 1737.8 1019.1 1751.3 1011.3 1764.3 1003.7 1776.4 996.6 1787.2 990.6 1796.6 985.5 1805.0 981.2 1812.5 977.4 1819.3 974.1 1825.4 971.1 1831.1 968.2 1836.3 965.6 1840.9 963.3 1844.9 961.3 1848.2 959.7 1851.0 958.3 1853.1 957.2" fill="none" stroke="#203848" stroke-width="7" stroke-linecap="butt" stroke-linejoin="round" stroke-dasharray="12 28" stroke-dashoffset="0"/>
<path d="M1092.0 1154.0 1092.2 1153.6 1092.5 1153.1 1092.8 1152.6 1093.2 1151.9 1093.6 1151.2 1094.0 1150.3 1094.5 1149.2 1095.0 1148.0 1095.5 1146.5 1096.1 1144.8 1096.7 1142.9 1097.3 1140.9 1098.0 1138.9 1098.6 1136.8 1099.3 1134.8 1100.0 1133.0 1100.7 1131.3 1101.4 1129.5 1102.0 1127.8 1102.8 1126.1 1103.5 1124.5 1104.3 1122.9 1105.1 1121.4 1106.0 1120.0 1106.9 1118.6 1107.9 1117.4 1108.9 1116.1 1110.0 1114.9 1111.1 1113.8 1112.3 1112.8 1113.6 1111.9 1115.0 1111.0 1116.3 1110.2 1117.4 1109.6 1118.4 1109.1 1119.6 1108.6 1121.1 1108.2 1123.1 1107.8 1125.8 1107.4 1129.4 1107.0 1134.2 1106.7 1140.1 1106.4 1146.8 1106.2 1154.0 1106.0 1161.3 1105.8 1168.3 1105.5 1174.7 1105.1 1180.0 1104.6 1184.5 1103.9 1188.4 1103.0 1192.0 1102.1 1195.2 1101.0 1198.0 1100.0 1200.5 1098.9 1202.9 1097.9 1205.0 1097.0 1206.8 1096.2 1208.3 1095.3 1209.4 1094.5 1210.2 1093.8 1211.0 1093.0 1211.6 1092.3 1212.3 1091.6 1213.0 1091.0 1213.8 1090.3 1214.5 1089.6 1215.1 1088.8 1215.8 1088.1 1216.3 1087.5 1216.9 1087.0 1217.4 1086.9 1218.0 1087.0 1218.5 1087.5 1219.1 1088.3 1219.6 1089.4 1220.1 1090.7 1220.5 1092.0 1221.0 1093.4 1221.5 1094.8 1222.0 1096.0 1222.3 1097.2 1222.4 1098.6 1222.4 1100.0 1222.4 1101.4 1222.6 1102.7 1223.2 1103.8 1224.3 1104.8 1226.0 1105.5 1228.2 1105.9 1230.6 1106.1 1233.4 1106.1 1236.6 1105.9 1240.4 1105.7 1244.8 1105.3 1250.0 1105.0 1256.0 1104.6 1263.0 1104.2 1270.8 1103.7 1279.3 1103.2 1288.6 1102.6 1298.3 1101.9 1308.6 1101.3 1319.2 1100.6 1330.0 1100.0 1341.3 1099.4 1353.3 1098.8 1365.9 1098.2 1378.8 1097.6 1391.9 1097.0 1405.1 1096.3 1418.2 1095.6 1431.0 1094.8 1443.7 1094.1 1456.4 1093.4 1469.1 1092.7 1481.8 1091.9 1494.6 1091.1 1507.3 1090.0 1520.0 1088.8 1532.7 1087.2 1545.6 1085.4 1558.6 1083.4 1571.8 1081.2 1585.0 1078.8 1597.9 1076.2 1610.5 1073.4 1622.6 1070.3 1634.0 1067.0 1644.7 1063.3 1654.8 1059.4 1664.4 1055.1 1673.6 1050.7 1682.6 1046.0 1691.6 1041.3 1700.7 1036.4 1710.0 1031.5 1719.7 1026.3 1729.8 1020.8 1739.9 1015.0 1750.0 1009.1 1759.8 1003.4 1769.2 997.9 1778.0 992.8 1786.0 988.4 1793.2 984.5 1799.8 981.1 1805.8 978.0 1811.4 975.2 1816.5 972.7 1821.3 970.3 1825.8 968.1 1830.0 966.0 1834.0 964.0 1837.6 962.2 1840.8 960.6 1843.8 959.1 1846.3 957.8 1848.6 956.7 1850.5 955.8 1852.0 955.0" fill="none" stroke="#abdda4" stroke-width="11.5" stroke-linecap="round" stroke-linejoin="round"/>
<path d="M1092.0 1154.0 1092.2 1153.6 1092.5 1153.1 1092.8 1152.6 1093.2 1151.9 1093.6 1151.2 1094.0 1150.3 1094.5 1149.2 1095.0 1148.0 1095.5 1146.5 1096.1 1144.8 1096.7 1142.9 1097.3 1140.9 1098.0 1138.9 1098.6 1136.8 1099.3 1134.8 1100.0 1133.0 1100.7 1131.3 1101.4 1129.5 1102.0 1127.8 1102.8 1126.1 1103.5 1124.5 1104.3 1122.9 1105.1 1121.4 1106.0 1120.0 1106.9 1118.6 1107.9 1117.4 1108.9 1116.1 1110.0 1114.9 1111.1 1113.8 1112.3 1112.8 1113.6 1111.9 1115.0 1111.0 1116.3 1110.2 1117.4 1109.6 1118.4 1109.1 1119.6 1108.6 1121.1 1108.2 1123.1 1107.8 1125.8 1107.4 1129.4 1107.0 1134.2 1106.7 1140.1 1106.4 1146.8 1106.2 1154.0 1106.0 1161.3 1105.8 1168.3 1105.5 1174.7 1105.1 1180.0 1104.6 1184.5 1103.9 1188.4 1103.0 1192.0 1102.1 1195.2 1101.0 1198.0 1100.0 1200.5 1098.9 1202.9 1097.9 1205.0 1097.0 1206.8 1096.2 1208.3 1095.3 1209.4 1094.5 1210.2 1093.8 1211.0 1093.0 1211.6 1092.3 1212.3 1091.6 1213.0 1091.0 1213.8 1090.3 1214.5 1089.6 1215.1 1088.8 1215.8 1088.1 1216.3 1087.5 1216.9 1087.0 1217.4 1086.9 1218.0 1087.0 1218.5 1087.5 1219.1 1088.3 1219.6 1089.4 1220.1 1090.7 1220.5 1092.0 1221.0 1093.4 1221.5 1094.8 1222.0 1096.0 1222.3 1097.2 1222.4 1098.6 1222.4 1100.0 1222.4 1101.4 1222.6 1102.7 1223.2 1103.8 1224.3 1104.8 1226.0 1105.5 1228.2 1105.9 1230.6 1106.1 1233.4 1106.1 1236.6 1105.9 1240.4 1105.7 1244.8 1105.3 1250.0 1105.0 1256.0 1104.6 1263.0 1104.2 1270.8 1103.7 1279.3 1103.2 1288.6 1102.6 1298.3 1101.9 1308.6 1101.3 1319.2 1100.6 1330.0 1100.0 1341.3 1099.4 1353.3 1098.8 1365.9 1098.2 1378.8 1097.6 1391.9 1097.0 1405.1 1096.3 1418.2 1095.6 1431.0 1094.8 1443.7 1094.1 1456.4 1093.4 1469.1 1092.7 1481.8 1091.9 1494.6 1091.1 1507.3 1090.0 1520.0 1088.8 1532.7 1087.2 1545.6 1085.4 1558.6 1083.4 1571.8 1081.2 1585.0 1078.8 1597.9 1076.2 1610.5 1073.4 1622.6 1070.3 1634.0 1067.0 1644.7 1063.3 1654.8 1059.4 1664.4 1055.1 1673.6 1050.7 1682.6 1046.0 1691.6 1041.3 1700.7 1036.4 1710.0 1031.5 1719.7 1026.3 1729.8 1020.8 1739.9 1015.0 1750.0 1009.1 1759.8 1003.4 1769.2 997.9 1778.0 992.8 1786.0 988.4 1793.2 984.5 1799.8 981.1 1805.8 978.0 1811.4 975.2 1816.5 972.7 1821.3 970.3 1825.8 968.1 1830.0 966.0 1834.0 964.0 1837.6 962.2 1840.8 960.6 1843.8 959.1 1846.3 957.8 1848.6 956.7 1850.5 955.8 1852.0 955.0" fill="none" stroke="#fee08b" stroke-width="11.5" stroke-linecap="butt" stroke-linejoin="round" stroke-dasharray="14 46" stroke-dashoffset="5"/>
<path d="M1092.0 1154.0 1092.2 1153.6 1092.5 1153.1 1092.8 1152.6 1093.2 1151.9 1093.6 1151.2 1094.0 1150.3 1094.5 1149.2 1095.0 1148.0 1095.5 1146.5 1096.1 1144.8 1096.7 1142.9 1097.3 1140.9 1098.0 1138.9 1098.6 1136.8 1099.3 1134.8 1100.0 1133.0 1100.7 1131.3 1101.4 1129.5 1102.0 1127.8 1102.8 1126.1 1103.5 1124.5 1104.3 1122.9 1105.1 1121.4 1106.0 1120.0 1106.9 1118.6 1107.9 1117.4 1108.9 1116.1 1110.0 1114.9 1111.1 1113.8 1112.3 1112.8 1113.6 1111.9 1115.0 1111.0 1116.3 1110.2 1117.4 1109.6 1118.4 1109.1 1119.6 1108.6 1121.1 1108.2 1123.1 1107.8 1125.8 1107.4 1129.4 1107.0 1134.2 1106.7 1140.1 1106.4 1146.8 1106.2 1154.0 1106.0 1161.3 1105.8 1168.3 1105.5 1174.7 1105.1 1180.0 1104.6 1184.5 1103.9 1188.4 1103.0 1192.0 1102.1 1195.2 1101.0 1198.0 1100.0 1200.5 1098.9 1202.9 1097.9 1205.0 1097.0 1206.8 1096.2 1208.3 1095.3 1209.4 1094.5 1210.2 1093.8 1211.0 1093.0 1211.6 1092.3 1212.3 1091.6 1213.0 1091.0 1213.8 1090.3 1214.5 1089.6 1215.1 1088.8 1215.8 1088.1 1216.3 1087.5 1216.9 1087.0 1217.4 1086.9 1218.0 1087.0 1218.5 1087.5 1219.1 1088.3 1219.6 1089.4 1220.1 1090.7 1220.5 1092.0 1221.0 1093.4 1221.5 1094.8 1222.0 1096.0 1222.3 1097.2 1222.4 1098.6 1222.4 1100.0 1222.4 1101.4 1222.6 1102.7 1223.2 1103.8 1224.3 1104.8 1226.0 1105.5 1228.2 1105.9 1230.6 1106.1 1233.4 1106.1 1236.6 1105.9 1240.4 1105.7 1244.8 1105.3 1250.0 1105.0 1256.0 1104.6 1263.0 1104.2 1270.8 1103.7 1279.3 1103.2 1288.6 1102.6 1298.3 1101.9 1308.6 1101.3 1319.2 1100.6 1330.0 1100.0 1341.3 1099.4 1353.3 1098.8 1365.9 1098.2 1378.8 1097.6 1391.9 1097.0 1405.1 1096.3 1418.2 1095.6 1431.0 1094.8 1443.7 1094.1 1456.4 1093.4 1469.1 1092.7 1481.8 1091.9 1494.6 1091.1 1507.3 1090.0 1520.0 1088.8 1532.7 1087.2 1545.6 1085.4 1558.6 1083.4 1571.8 1081.2 1585.0 1078.8 1597.9 1076.2 1610.5 1073.4 1622.6 1070.3 1634.0 1067.0 1644.7 1063.3 1654.8 1059.4 1664.4 1055.1 1673.6 1050.7 1682.6 1046.0 1691.6 1041.3 1700.7 1036.4 1710.0 1031.5 1719.7 1026.3 1729.8 1020.8 1739.9 1015.0 1750.0 1009.1 1759.8 1003.4 1769.2 997.9 1778.0 992.8 1786.0 988.4 1793.2 984.5 1799.8 981.1 1805.8 978.0 1811.4 975.2 1816.5 972.7 1821.3 970.3 1825.8 968.1 1830.0 966.0 1834.0 964.0 1837.6 962.2 1840.8 960.6 1843.8 959.1 1846.3 957.8 1848.6 956.7 1850.5 955.8 1852.0 955.0" fill="none" stroke="#66c2a5" stroke-width="11.5" stroke-linecap="butt" stroke-linejoin="round" stroke-dasharray="14 46" stroke-dashoffset="25"/>
<path d="M1092.0 1154.0 1092.2 1153.6 1092.5 1153.1 1092.8 1152.6 1093.2 1151.9 1093.6 1151.2 1094.0 1150.3 1094.5 1149.2 1095.0 1148.0 1095.5 1146.5 1096.1 1144.8 1096.7 1142.9 1097.3 1140.9 1098.0 1138.9 1098.6 1136.8 1099.3 1134.8 1100.0 1133.0 1100.7 1131.3 1101.4 1129.5 1102.0 1127.8 1102.8 1126.1 1103.5 1124.5 1104.3 1122.9 1105.1 1121.4 1106.0 1120.0 1106.9 1118.6 1107.9 1117.4 1108.9 1116.1 1110.0 1114.9 1111.1 1113.8 1112.3 1112.8 1113.6 1111.9 1115.0 1111.0 1116.3 1110.2 1117.4 1109.6 1118.4 1109.1 1119.6 1108.6 1121.1 1108.2 1123.1 1107.8 1125.8 1107.4 1129.4 1107.0 1134.2 1106.7 1140.1 1106.4 1146.8 1106.2 1154.0 1106.0 1161.3 1105.8 1168.3 1105.5 1174.7 1105.1 1180.0 1104.6 1184.5 1103.9 1188.4 1103.0 1192.0 1102.1 1195.2 1101.0 1198.0 1100.0 1200.5 1098.9 1202.9 1097.9 1205.0 1097.0 1206.8 1096.2 1208.3 1095.3 1209.4 1094.5 1210.2 1093.8 1211.0 1093.0 1211.6 1092.3 1212.3 1091.6 1213.0 1091.0 1213.8 1090.3 1214.5 1089.6 1215.1 1088.8 1215.8 1088.1 1216.3 1087.5 1216.9 1087.0 1217.4 1086.9 1218.0 1087.0 1218.5 1087.5 1219.1 1088.3 1219.6 1089.4 1220.1 1090.7 1220.5 1092.0 1221.0 1093.4 1221.5 1094.8 1222.0 1096.0 1222.3 1097.2 1222.4 1098.6 1222.4 1100.0 1222.4 1101.4 1222.6 1102.7 1223.2 1103.8 1224.3 1104.8 1226.0 1105.5 1228.2 1105.9 1230.6 1106.1 1233.4 1106.1 1236.6 1105.9 1240.4 1105.7 1244.8 1105.3 1250.0 1105.0 1256.0 1104.6 1263.0 1104.2 1270.8 1103.7 1279.3 1103.2 1288.6 1102.6 1298.3 1101.9 1308.6 1101.3 1319.2 1100.6 1330.0 1100.0 1341.3 1099.4 1353.3 1098.8 1365.9 1098.2 1378.8 1097.6 1391.9 1097.0 1405.1 1096.3 1418.2 1095.6 1431.0 1094.8 1443.7 1094.1 1456.4 1093.4 1469.1 1092.7 1481.8 1091.9 1494.6 1091.1 1507.3 1090.0 1520.0 1088.8 1532.7 1087.2 1545.6 1085.4 1558.6 1083.4 1571.8 1081.2 1585.0 1078.8 1597.9 1076.2 1610.5 1073.4 1622.6 1070.3 1634.0 1067.0 1644.7 1063.3 1654.8 1059.4 1664.4 1055.1 1673.6 1050.7 1682.6 1046.0 1691.6 1041.3 1700.7 1036.4 1710.0 1031.5 1719.7 1026.3 1729.8 1020.8 1739.9 1015.0 1750.0 1009.1 1759.8 1003.4 1769.2 997.9 1778.0 992.8 1786.0 988.4 1793.2 984.5 1799.8 981.1 1805.8 978.0 1811.4 975.2 1816.5 972.7 1821.3 970.3 1825.8 968.1 1830.0 966.0 1834.0 964.0 1837.6 962.2 1840.8 960.6 1843.8 959.1 1846.3 957.8 1848.6 956.7 1850.5 955.8 1852.0 955.0" fill="none" stroke="#eef5a6" stroke-width="11.5" stroke-linecap="butt" stroke-linejoin="round" stroke-dasharray="8 52" stroke-dashoffset="42"/>
<path d="M1092.0 1154.0 1092.2 1153.6 1092.5 1153.1 1092.8 1152.6 1093.2 1151.9 1093.6 1151.2 1094.0 1150.3 1094.5 1149.2 1095.0 1148.0 1095.5 1146.5 1096.1 1144.8 1096.7 1142.9 1097.3 1140.9 1098.0 1138.9 1098.6 1136.8 1099.3 1134.8 1100.0 1133.0 1100.7 1131.3 1101.4 1129.5 1102.0 1127.8 1102.8 1126.1 1103.5 1124.5 1104.3 1122.9 1105.1 1121.4 1106.0 1120.0 1106.9 1118.6 1107.9 1117.4 1108.9 1116.1 1110.0 1114.9 1111.1 1113.8 1112.3 1112.8 1113.6 1111.9 1115.0 1111.0 1116.3 1110.2 1117.4 1109.6 1118.4 1109.1 1119.6 1108.6 1121.1 1108.2 1123.1 1107.8 1125.8 1107.4 1129.4 1107.0 1134.2 1106.7 1140.1 1106.4 1146.8 1106.2 1154.0 1106.0 1161.3 1105.8 1168.3 1105.5 1174.7 1105.1 1180.0 1104.6 1184.5 1103.9 1188.4 1103.0 1192.0 1102.1 1195.2 1101.0 1198.0 1100.0 1200.5 1098.9 1202.9 1097.9 1205.0 1097.0 1206.8 1096.2 1208.3 1095.3 1209.4 1094.5 1210.2 1093.8 1211.0 1093.0 1211.6 1092.3 1212.3 1091.6 1213.0 1091.0 1213.8 1090.3 1214.5 1089.6 1215.1 1088.8 1215.8 1088.1 1216.3 1087.5 1216.9 1087.0 1217.4 1086.9 1218.0 1087.0 1218.5 1087.5 1219.1 1088.3 1219.6 1089.4 1220.1 1090.7 1220.5 1092.0 1221.0 1093.4 1221.5 1094.8 1222.0 1096.0 1222.3 1097.2 1222.4 1098.6 1222.4 1100.0 1222.4 1101.4 1222.6 1102.7 1223.2 1103.8 1224.3 1104.8 1226.0 1105.5 1228.2 1105.9 1230.6 1106.1 1233.4 1106.1 1236.6 1105.9 1240.4 1105.7 1244.8 1105.3 1250.0 1105.0 1256.0 1104.6 1263.0 1104.2 1270.8 1103.7 1279.3 1103.2 1288.6 1102.6 1298.3 1101.9 1308.6 1101.3 1319.2 1100.6 1330.0 1100.0 1341.3 1099.4 1353.3 1098.8 1365.9 1098.2 1378.8 1097.6 1391.9 1097.0 1405.1 1096.3 1418.2 1095.6 1431.0 1094.8 1443.7 1094.1 1456.4 1093.4 1469.1 1092.7 1481.8 1091.9 1494.6 1091.1 1507.3 1090.0 1520.0 1088.8 1532.7 1087.2 1545.6 1085.4 1558.6 1083.4 1571.8 1081.2 1585.0 1078.8 1597.9 1076.2 1610.5 1073.4 1622.6 1070.3 1634.0 1067.0 1644.7 1063.3 1654.8 1059.4 1664.4 1055.1 1673.6 1050.7 1682.6 1046.0 1691.6 1041.3 1700.7 1036.4 1710.0 1031.5 1719.7 1026.3 1729.8 1020.8 1739.9 1015.0 1750.0 1009.1 1759.8 1003.4 1769.2 997.9 1778.0 992.8 1786.0 988.4 1793.2 984.5 1799.8 981.1 1805.8 978.0 1811.4 975.2 1816.5 972.7 1821.3 970.3 1825.8 968.1 1830.0 966.0 1834.0 964.0 1837.6 962.2 1840.8 960.6 1843.8 959.1 1846.3 957.8 1848.6 956.7 1850.5 955.8 1852.0 955.0" fill="none" stroke="#15a0b4" stroke-width="11.5" stroke-linecap="butt" stroke-linejoin="round" stroke-dasharray="9 11" stroke-dashoffset="0"/>
<path d="M1832.4 970.4 1835.0 969.0 1838.5 966.9 1842.6 964.6 1846.8 962.4 1850.5 960.7 1853.1 959.9 1854.6 959.7 1855.7 959.8 1856.7 960.2 1857.9 960.9 1859.4 961.9 1861.1 963.1 1862.7 964.3 1864.2 965.5 1865.7 966.9 1867.0 968.5 1868.4 970.3 1869.7 972.5 1870.9 974.8 1872.1 977.3 1873.2 979.9 1874.2 983.0 1875.2 986.6 1876.1 990.9 1876.9 996.0 1877.7 1001.7 1878.3 1008.0 1878.9 1014.8 1879.5 1022.3 1880.0 1030.3 1880.5 1039.2 1880.8 1049.2 1881.1 1059.8 1881.4 1070.5 1881.7 1080.8 1882.0 1090.2 1882.3 1098.7 1882.6 1106.7 1882.9 1114.3 1883.3 1121.5 1883.6 1128.5 1884.0 1135.3 1884.4 1141.9 1884.8 1148.4 1885.2 1154.6 1885.7 1160.4 1886.3 1165.9 1887.1 1170.9 1888.0 1175.3 1889.2 1179.2 1890.4 1182.7 1891.8 1185.8 1893.3 1188.5 1895.0 1190.9 1896.8 1193.2 1898.9 1195.2 1901.2 1196.9 1903.8 1198.2 1906.6 1198.9 1909.4 1199.0 1912.0 1198.5 1914.6 1197.5 1917.1 1196.0 1919.5 1194.0 1921.6 1191.4 1923.5 1188.3 1925.0 1184.7 1926.4 1180.7 1927.7 1176.3 1928.8 1171.5 1929.9 1166.3 1930.9 1160.9 1931.9 1154.8 1932.8 1148.2 1933.6 1141.3 1934.4 1134.2 1935.2 1127.2 1936.0 1120.6 1936.8 1114.1 1937.6 1107.5 1938.4 1100.9 1939.2 1094.7 1940.0 1089.0 1940.9 1083.9 1941.8 1079.5 1942.7 1075.7 1943.6 1072.3 1944.6 1069.3 1945.5 1066.5 1946.6 1063.9 1947.7 1061.2 1948.5 1059.0 1949.2 1057.5 1949.7 1056.7 1950.2 1056.3 1951.2 1055.8 1953.0 1055.7 1955.5 1055.9 1959.0 1056.5 1963.5 1057.2 1968.9 1057.9 1975.0 1058.0 1982.3 1057.7 1990.7 1057.3 1999.7 1056.7 2009.0 1056.0 2017.8 1055.0 2025.8 1053.9 2033.2 1052.4 2040.4 1050.6 2047.1 1048.5 2053.1 1046.6 2057.9 1044.9 2061.5 1043.8" fill="none" stroke="#fee08b" stroke-width="9" stroke-linecap="butt" stroke-linejoin="round" stroke-dasharray="40 40" stroke-dashoffset="10"/>
<path d="M1830.0 966.0 1831.8 965.0 1834.2 963.7 1837.1 962.0 1840.2 960.2 1843.5 958.5 1846.7 957.0 1849.6 955.7 1852.0 955.0 1854.0 954.7 1855.8 954.8 1857.3 955.1 1858.8 955.6 1860.1 956.3 1861.4 957.2 1862.7 958.1 1864.0 959.0 1865.4 960.0 1866.7 961.0 1868.0 962.2 1869.3 963.5 1870.6 964.9 1871.8 966.5 1872.9 968.1 1874.0 970.0 1875.0 971.9 1876.0 973.9 1877.0 976.0 1877.9 978.2 1878.7 980.6 1879.5 983.4 1880.3 986.5 1881.0 990.0 1881.7 993.9 1882.3 998.1 1882.8 1002.7 1883.3 1007.5 1883.8 1012.7 1884.2 1018.1 1884.6 1023.9 1885.0 1030.0 1885.3 1036.6 1885.6 1043.9 1885.9 1051.7 1886.1 1059.7 1886.3 1067.7 1886.5 1075.6 1886.8 1083.1 1887.0 1090.0 1887.2 1096.4 1887.5 1102.5 1887.7 1108.4 1887.9 1114.1 1888.2 1119.5 1888.4 1124.8 1888.7 1130.0 1889.0 1135.0 1889.3 1140.0 1889.6 1144.9 1889.9 1149.6 1890.2 1154.2 1890.5 1158.6 1890.9 1162.7 1891.4 1166.5 1892.0 1170.0 1892.7 1173.1 1893.4 1176.0 1894.2 1178.5 1895.1 1180.8 1896.0 1182.9 1896.9 1184.7 1898.0 1186.4 1899.0 1188.0 1900.1 1189.4 1901.3 1190.7 1902.5 1191.7 1903.8 1192.6 1905.1 1193.3 1906.4 1193.8 1907.7 1194.0 1909.0 1194.0 1910.3 1193.8 1911.6 1193.4 1912.9 1192.8 1914.2 1192.0 1915.5 1190.9 1916.7 1189.6 1917.9 1188.0 1919.0 1186.0 1920.0 1183.7 1921.0 1181.1 1921.9 1178.2 1922.8 1175.0 1923.7 1171.6 1924.5 1167.9 1925.2 1164.0 1926.0 1160.0 1926.7 1155.6 1927.4 1150.9 1928.0 1145.9 1928.6 1140.7 1929.2 1135.4 1929.8 1130.1 1930.4 1125.0 1931.0 1120.0 1931.6 1115.1 1932.2 1110.2 1932.8 1105.2 1933.4 1100.3 1934.1 1095.6 1934.7 1091.1 1935.3 1086.8 1936.0 1083.0 1936.7 1079.5 1937.4 1076.4 1938.1 1073.5 1938.8 1070.9 1939.6 1068.4 1940.3 1066.2 1941.1 1064.0 1942.0 1062.0 1942.8 1060.1 1943.5 1058.2 1944.1 1056.6 1944.8 1055.1 1945.7 1053.7 1946.8 1052.6 1948.2 1051.7 1950.0 1051.0 1952.1 1050.7 1954.5 1050.7 1957.0 1051.1 1959.9 1051.6 1963.0 1052.1 1966.6 1052.6 1970.6 1052.9 1975.0 1053.0 1980.2 1052.8 1986.1 1052.6 1992.6 1052.2 1999.4 1051.8 2006.2 1051.2 2013.0 1050.6 2019.3 1049.8 2025.0 1049.0 2030.3 1048.0 2035.6 1046.7 2040.8 1045.2 2045.6 1043.8 2050.1 1042.3 2054.1 1040.9 2057.4 1039.8 2060.0 1039.0" fill="none" stroke="#abdda4" stroke-width="10" stroke-linecap="butt" stroke-linejoin="round"/>
<path d="M1830.0 966.0 1831.8 965.0 1834.2 963.7 1837.1 962.0 1840.2 960.2 1843.5 958.5 1846.7 957.0 1849.6 955.7 1852.0 955.0 1854.0 954.7 1855.8 954.8 1857.3 955.1 1858.8 955.6 1860.1 956.3 1861.4 957.2 1862.7 958.1 1864.0 959.0 1865.4 960.0 1866.7 961.0 1868.0 962.2 1869.3 963.5 1870.6 964.9 1871.8 966.5 1872.9 968.1 1874.0 970.0 1875.0 971.9 1876.0 973.9 1877.0 976.0 1877.9 978.2 1878.7 980.6 1879.5 983.4 1880.3 986.5 1881.0 990.0 1881.7 993.9 1882.3 998.1 1882.8 1002.7 1883.3 1007.5 1883.8 1012.7 1884.2 1018.1 1884.6 1023.9 1885.0 1030.0 1885.3 1036.6 1885.6 1043.9 1885.9 1051.7 1886.1 1059.7 1886.3 1067.7 1886.5 1075.6 1886.8 1083.1 1887.0 1090.0 1887.2 1096.4 1887.5 1102.5 1887.7 1108.4 1887.9 1114.1 1888.2 1119.5 1888.4 1124.8 1888.7 1130.0 1889.0 1135.0 1889.3 1140.0 1889.6 1144.9 1889.9 1149.6 1890.2 1154.2 1890.5 1158.6 1890.9 1162.7 1891.4 1166.5 1892.0 1170.0 1892.7 1173.1 1893.4 1176.0 1894.2 1178.5 1895.1 1180.8 1896.0 1182.9 1896.9 1184.7 1898.0 1186.4 1899.0 1188.0 1900.1 1189.4 1901.3 1190.7 1902.5 1191.7 1903.8 1192.6 1905.1 1193.3 1906.4 1193.8 1907.7 1194.0 1909.0 1194.0 1910.3 1193.8 1911.6 1193.4 1912.9 1192.8 1914.2 1192.0 1915.5 1190.9 1916.7 1189.6 1917.9 1188.0 1919.0 1186.0 1920.0 1183.7 1921.0 1181.1 1921.9 1178.2 1922.8 1175.0 1923.7 1171.6 1924.5 1167.9 1925.2 1164.0 1926.0 1160.0 1926.7 1155.6 1927.4 1150.9 1928.0 1145.9 1928.6 1140.7 1929.2 1135.4 1929.8 1130.1 1930.4 1125.0 1931.0 1120.0 1931.6 1115.1 1932.2 1110.2 1932.8 1105.2 1933.4 1100.3 1934.1 1095.6 1934.7 1091.1 1935.3 1086.8 1936.0 1083.0 1936.7 1079.5 1937.4 1076.4 1938.1 1073.5 1938.8 1070.9 1939.6 1068.4 1940.3 1066.2 1941.1 1064.0 1942.0 1062.0 1942.8 1060.1 1943.5 1058.2 1944.1 1056.6 1944.8 1055.1 1945.7 1053.7 1946.8 1052.6 1948.2 1051.7 1950.0 1051.0 1952.1 1050.7 1954.5 1050.7 1957.0 1051.1 1959.9 1051.6 1963.0 1052.1 1966.6 1052.6 1970.6 1052.9 1975.0 1053.0 1980.2 1052.8 1986.1 1052.6 1992.6 1052.2 1999.4 1051.8 2006.2 1051.2 2013.0 1050.6 2019.3 1049.8 2025.0 1049.0 2030.3 1048.0 2035.6 1046.7 2040.8 1045.2 2045.6 1043.8 2050.1 1042.3 2054.1 1040.9 2057.4 1039.8 2060.0 1039.0" fill="none" stroke="#66c2a5" stroke-width="10" stroke-linecap="butt" stroke-linejoin="round" stroke-dasharray="12 28" stroke-dashoffset="8"/>
<path d="M1830.0 966.0 1831.8 965.0 1834.2 963.7 1837.1 962.0 1840.2 960.2 1843.5 958.5 1846.7 957.0 1849.6 955.7 1852.0 955.0 1854.0 954.7 1855.8 954.8 1857.3 955.1 1858.8 955.6 1860.1 956.3 1861.4 957.2 1862.7 958.1 1864.0 959.0 1865.4 960.0 1866.7 961.0 1868.0 962.2 1869.3 963.5 1870.6 964.9 1871.8 966.5 1872.9 968.1 1874.0 970.0 1875.0 971.9 1876.0 973.9 1877.0 976.0 1877.9 978.2 1878.7 980.6 1879.5 983.4 1880.3 986.5 1881.0 990.0 1881.7 993.9 1882.3 998.1 1882.8 1002.7 1883.3 1007.5 1883.8 1012.7 1884.2 1018.1 1884.6 1023.9 1885.0 1030.0 1885.3 1036.6 1885.6 1043.9 1885.9 1051.7 1886.1 1059.7 1886.3 1067.7 1886.5 1075.6 1886.8 1083.1 1887.0 1090.0 1887.2 1096.4 1887.5 1102.5 1887.7 1108.4 1887.9 1114.1 1888.2 1119.5 1888.4 1124.8 1888.7 1130.0 1889.0 1135.0 1889.3 1140.0 1889.6 1144.9 1889.9 1149.6 1890.2 1154.2 1890.5 1158.6 1890.9 1162.7 1891.4 1166.5 1892.0 1170.0 1892.7 1173.1 1893.4 1176.0 1894.2 1178.5 1895.1 1180.8 1896.0 1182.9 1896.9 1184.7 1898.0 1186.4 1899.0 1188.0 1900.1 1189.4 1901.3 1190.7 1902.5 1191.7 1903.8 1192.6 1905.1 1193.3 1906.4 1193.8 1907.7 1194.0 1909.0 1194.0 1910.3 1193.8 1911.6 1193.4 1912.9 1192.8 1914.2 1192.0 1915.5 1190.9 1916.7 1189.6 1917.9 1188.0 1919.0 1186.0 1920.0 1183.7 1921.0 1181.1 1921.9 1178.2 1922.8 1175.0 1923.7 1171.6 1924.5 1167.9 1925.2 1164.0 1926.0 1160.0 1926.7 1155.6 1927.4 1150.9 1928.0 1145.9 1928.6 1140.7 1929.2 1135.4 1929.8 1130.1 1930.4 1125.0 1931.0 1120.0 1931.6 1115.1 1932.2 1110.2 1932.8 1105.2 1933.4 1100.3 1934.1 1095.6 1934.7 1091.1 1935.3 1086.8 1936.0 1083.0 1936.7 1079.5 1937.4 1076.4 1938.1 1073.5 1938.8 1070.9 1939.6 1068.4 1940.3 1066.2 1941.1 1064.0 1942.0 1062.0 1942.8 1060.1 1943.5 1058.2 1944.1 1056.6 1944.8 1055.1 1945.7 1053.7 1946.8 1052.6 1948.2 1051.7 1950.0 1051.0 1952.1 1050.7 1954.5 1050.7 1957.0 1051.1 1959.9 1051.6 1963.0 1052.1 1966.6 1052.6 1970.6 1052.9 1975.0 1053.0 1980.2 1052.8 1986.1 1052.6 1992.6 1052.2 1999.4 1051.8 2006.2 1051.2 2013.0 1050.6 2019.3 1049.8 2025.0 1049.0 2030.3 1048.0 2035.6 1046.7 2040.8 1045.2 2045.6 1043.8 2050.1 1042.3 2054.1 1040.9 2057.4 1039.8 2060.0 1039.0" fill="none" stroke="#15a0b4" stroke-width="10" stroke-linecap="butt" stroke-linejoin="round" stroke-dasharray="9 11" stroke-dashoffset="0"/>
<path d="M1812.0 969.0 1813.6 968.2 1815.6 967.2 1818.1 965.9 1820.9 964.6 1823.8 963.1 1826.7 961.7 1829.5 960.3 1832.0 959.0 1834.4 957.7 1836.8 956.4 1839.2 955.0 1841.5 953.6 1843.8 952.4 1846.0 951.3 1848.1 950.5 1850.0 950.0 1851.8 949.8 1853.4 949.9 1855.0 950.2 1856.4 950.8 1857.8 951.4 1859.2 952.2 1860.6 953.1 1862.0 954.0 1863.5 955.0 1864.9 956.2 1866.4 957.4 1867.8 958.8 1869.2 960.3 1870.6 961.8 1871.8 963.4 1873.0 965.0 1874.1 966.8 1875.2 968.8 1876.2 971.0 1877.2 973.2 1878.1 975.3 1878.8 977.2 1879.5 978.8 1880.0 980.0" fill="none" stroke="#3a0a3c" stroke-width="5" stroke-linecap="butt" stroke-linejoin="round" stroke-dasharray="24 16" stroke-dashoffset="0"/>
<path d="M1878 873V933M1878 1130V1172M1878 1212V1257M1878 1292V1338M1878 1349V1385" stroke="#fee08b" stroke-width="10" fill="none"/>
<path d="M1878 873V880M1878 926V933M1878 1165V1172M1878 1250V1257M1878 1331V1338M1878 1349V1356" stroke="#f46d43" stroke-width="10" fill="none"/>
<path d="M1890 888V928M1890 958V1009M1890 1214V1253M1890 1270V1333M1890 1351V1383" stroke="#3a0a3c" stroke-width="9" fill="none"/>
<path d="M1889.5 958V970" stroke="#0b5a32" stroke-width="9" fill="none"/>
<path d="M1929 883V926M1929 1210V1250M1929 1290V1332M1929 1356V1385" stroke="#fee08b" stroke-width="10" fill="none"/>
<path d="M1786.0 990.0 1789.5 988.2 1794.4 985.7 1800.2 982.7 1806.6 979.4 1813.2 976.0 1819.5 972.9 1825.3 970.1 1830.0 968.0 1833.9 966.4 1837.3 964.9 1840.4 963.7 1843.1 962.8 1845.6 962.2 1847.9 961.8 1850.0 961.7 1852.0 962.0 1853.9 962.6 1855.5 963.6 1856.9 965.0 1858.1 966.6 1859.2 968.4 1860.2 970.5 1861.1 972.7 1862.0 975.0 1862.8 977.3 1863.5 979.6 1864.1 982.0 1864.6 984.6 1865.0 987.5 1865.4 991.0 1865.7 995.1 1866.0 1000.0 1866.3 1005.8 1866.4 1012.5 1866.6 1019.9 1866.6 1027.8 1866.7 1036.0 1866.8 1044.2 1866.8 1052.3 1867.0 1060.0 1867.2 1067.6 1867.4 1075.4 1867.7 1083.3 1867.9 1091.1 1868.2 1098.8 1868.5 1106.3 1868.7 1113.4 1869.0 1120.0 1869.2 1126.2 1869.4 1132.2 1869.5 1137.9 1869.6 1143.3 1869.8 1148.4 1870.1 1153.3 1870.5 1157.8 1871.0 1162.0 1871.7 1165.9 1872.4 1169.6 1873.3 1172.9 1874.2 1175.9 1875.3 1178.7 1876.4 1181.1 1877.7 1183.2 1879.0 1185.0 1880.6 1186.4 1882.4 1187.2 1884.4 1187.7 1886.5 1187.9 1888.5 1188.0 1890.3 1187.9 1891.9 1187.9 1893.0 1188.0" fill="none" stroke="#15a0b4" stroke-width="10" stroke-linecap="butt" stroke-linejoin="round" stroke-dasharray="9 11" stroke-dashoffset="0"/>
<path d="M1910.0 1095.0 1910.1 1097.7 1910.2 1101.2 1910.3 1105.3 1910.5 1110.0 1910.7 1115.0 1910.8 1120.1 1910.9 1125.1 1911.0 1130.0 1911.0 1135.0 1911.1 1140.6 1911.1 1146.4 1911.1 1152.2 1911.0 1157.7 1911.0 1162.7 1911.0 1166.9 1911.0 1170.0" fill="none" stroke="#15a0b4" stroke-width="10" stroke-linecap="butt" stroke-linejoin="round" stroke-dasharray="9 11" stroke-dashoffset="4"/>
<path d="M1904.0 969.0 1912.0 1007.0" fill="none" stroke="#15a0b4" stroke-width="10" stroke-linecap="butt" stroke-linejoin="round"/>
<path d="M1911.0 1049.0 1914.0 1083.0" fill="none" stroke="#15a0b4" stroke-width="10" stroke-linecap="butt" stroke-linejoin="round"/>
<path d="M1912.0 1131.0 1915.0 1169.0" fill="none" stroke="#15a0b4" stroke-width="10" stroke-linecap="butt" stroke-linejoin="round"/>
<path d="M1937.0 1203.0 1953.0 1168.0" fill="none" stroke="#15a0b4" stroke-width="10" stroke-linecap="butt" stroke-linejoin="round"/>
<path d="M1956.0 1123.0 1958.0 1088.0" fill="none" stroke="#15a0b4" stroke-width="10" stroke-linecap="butt" stroke-linejoin="round"/>
<path d="M1929.0 1007.0 1931.0 965.0 1941.0 965.0 1949.0 999.0" fill="none" stroke="#fee08b" stroke-width="10" stroke-linecap="butt" stroke-linejoin="round"/>
<path d="M1978.0 1031.0 2012.0 1041.0" fill="none" stroke="#fee08b" stroke-width="10" stroke-linecap="butt" stroke-linejoin="round"/>
<path d="M1952.0 1080.0 1952.7 1079.8 1953.5 1079.5 1954.4 1079.2 1955.5 1078.9 1956.9 1078.5 1958.8 1078.0 1961.1 1077.5 1964.0 1077.0 1967.7 1076.4 1972.1 1075.9 1977.0 1075.3 1982.4 1074.6 1987.9 1073.9 1993.5 1073.1 1998.9 1072.1 2004.0 1071.0 2009.1 1069.6 2014.3 1068.0 2019.7 1066.2 2025.0 1064.4 2030.0 1062.5 2034.7 1060.8 2038.7 1059.2 2042.0 1058.0 2044.5 1057.0 2046.3 1056.3 2047.5 1055.7 2048.4 1055.2 2048.9 1054.8 2049.3 1054.5 2049.6 1054.2 2050.0 1054.0" fill="none" stroke="#fdae61" stroke-width="9" stroke-linecap="butt" stroke-linejoin="round" stroke-dasharray="10 10" stroke-dashoffset="0"/>
<path d="M1888.0 1204.0 1900.0 1206.0 1913.0 1201.0" fill="none" stroke="#0b5a32" stroke-width="9" stroke-linecap="butt" stroke-linejoin="round"/>
<path d="M1889.0 1225.0 1905.0 1212.0 1922.0 1201.0" fill="none" stroke="#3a0a3c" stroke-width="8" stroke-linecap="butt" stroke-linejoin="round"/>
<path d="M1890.0 1308.0 1891.2 1307.0 1892.7 1305.5 1894.5 1303.7 1896.6 1301.8 1898.7 1299.9 1900.9 1298.4 1903.0 1297.3 1905.0 1297.0 1907.0 1297.5 1909.1 1298.7 1911.3 1300.3 1913.4 1302.3 1915.5 1304.4 1917.3 1306.3 1918.8 1307.9 1920.0 1309.0" fill="none" stroke="#fdae61" stroke-width="6" stroke-linecap="butt" stroke-linejoin="round"/>
</g>
<rect x="276.8" y="189.4" width="1784.0" height="577.3" fill="none" stroke="#111" stroke-width="2.3"/>
<rect x="276.8" y="835.2" width="1781.7" height="577.1" fill="none" stroke="#111" stroke-width="2.3"/>
<rect x="276.8" y="60.6" width="1566.5" height="250.4" fill="#fff" stroke="#111" stroke-width="2.3"/>
<path d="M289 106h40M369 106h40" stroke="#0b5a32" stroke-width="9.5"/>
<g id="lg_kQ" transform="matrix(0.99194 0 0 1.01563 1.710 0.112)"><text class="lg" x="457.5" y="119.8" font-size="63"><tspan font-style="italic">k</tspan><tspan font-size="52" dy="12.6">Q</tspan></text></g>
<path d="M617.5 106h40M697.5 106h40" stroke="#3a0a3c" stroke-width="9.5"/>
<g id="lg_kpE" transform="matrix(1.05556 0 0 0.98060 -44.878 2.375)"><text class="lg" x="786.3" y="119.8" font-size="63"><tspan font-style="italic">k</tspan><tspan font-size="52" dy="12.6">pE</tspan></text></g>
<path d="M954.5 106h40M1034.5 106h40" stroke="#6e2f3f" stroke-width="9.5"/>
<g id="lg_kiE" transform="matrix(1.02464 0 0 0.98036 -29.717 2.793)"><text class="lg" x="1122.5" y="119.8" font-size="63"><tspan font-style="italic">k</tspan><tspan font-size="52" dy="12.6">iE</tspan></text></g>
<path d="M1261 106h40M1341 106h40" stroke="#a8063f" stroke-width="9.5"/>
<g id="lg_D" transform="matrix(1.04222 0 0 1.02143 -60.993 -2.771)"><text class="lg" x="1428.6" y="119.8" font-size="63" text-anchor="start" font-style="italic">D</text></g>
<path d="M1517 106h40M1597 106h40" stroke="#dc3a4e" stroke-width="9.5"/>
<g id="lg_Tj" transform="matrix(1.17000 0 0 1.00615 -292.650 -1.680)"><text class="lg" x="1690.5" y="119.8" font-size="63"><tspan font-style="italic">T</tspan><tspan font-size="52" dy="12.6">j</tspan></text></g>
<path d="M289 185.3h40M369 185.3h40" stroke="#f46d43" stroke-width="9.5"/>
<g id="lg_kpu" transform="matrix(1.07763 0 0 0.92388 -38.811 14.275)"><text class="lg" x="457.5" y="199.6" font-size="63"><tspan font-style="italic">k</tspan><tspan font-size="52" dy="12.6">pu</tspan></text></g>
<path d="M617.5 185.3h40M697.5 185.3h40" stroke="#fdae61" stroke-width="9.5"/>
<g id="lg_kiu" transform="matrix(1.00909 0 0 0.99286 -9.764 3.514)"><text class="lg" x="786.3" y="199.6" font-size="63"><tspan font-style="italic">k</tspan><tspan font-size="52" dy="12.6">iu</tspan></text></g>
<path d="M954.5 185.3h40M1034.5 185.3h40" stroke="#fee08b" stroke-width="9.5"/>
<g id="lg_kpi" transform="matrix(1.01077 0 0 0.97015 -14.115 6.757)"><text class="lg" x="1122.5" y="199.6" font-size="63"><tspan font-style="italic">k</tspan><tspan font-size="52" dy="12.6">pi</tspan></text></g>
<path d="M1261 185.3h40M1341 185.3h40" stroke="#eef5a6" stroke-width="9.5"/>
<g id="lg_kii" transform="matrix(0.95472 0 0 1.01250 63.100 -1.450)"><text class="lg" x="1428.6" y="199.6" font-size="63"><tspan font-style="italic">k</tspan><tspan font-size="52" dy="12.6">ii</tspan></text></g>
<path d="M1517 185.3h40M1597 185.3h40" stroke="#abdda4" stroke-width="9.5"/>
<g id="lg_kpccsc" transform="matrix(1.00504 0 0 0.96418 -16.326 5.988)"><text class="lg" x="1690.5" y="199.6" font-size="63"><tspan font-style="italic">k</tspan><tspan font-size="52" dy="12.6">pccsc</tspan></text></g>
<path d="M289 265.5h40M369 265.5h40" stroke="#66c2a5" stroke-width="9.5"/>
<g id="lg_kiccsc" transform="matrix(0.98740 0 0 0.99107 2.695 3.425)"><text class="lg" x="457.5" y="281.8" font-size="63"><tspan font-style="italic">k</tspan><tspan font-size="52" dy="12.6">iccsc</tspan></text></g>
<path d="M617.5 265.5h40M697.5 265.5h40" stroke="#15a0b4" stroke-width="9.5"/>
<g id="lg_delay" transform="matrix(1.01037 0 0 0.95690 -9.172 11.559)"><text class="lg" x="786.3" y="281.8" font-size="63" text-anchor="start" font-style="italic">delay</text></g>
<path d="M954.0 265.5h153" stroke="#4a62ae" stroke-width="9.5"/>
<g id="lg_init" transform="matrix(1.13617 0 0 1.03095 -156.955 -7.729)"><text class="lg" x="1122.5" y="281.8" font-size="63" text-anchor="start">init.</text></g>
<g id="yt60" transform="matrix(1.01061 0 0 1.03061 0.702 -10.124)"><text x="248.5" y="334" font-size="73" text-anchor="end">60</text></g>
<g id="yt40" transform="matrix(1.02239 0 0 1.04898 -2.185 -23.204)"><text x="248.5" y="485.5" font-size="73" text-anchor="end">40</text></g>
<g id="yt20" transform="matrix(1.03788 0 0 1.01224 -5.980 -7.776)"><text x="248.5" y="634.5" font-size="73" text-anchor="end">20</text></g>
<g id="yt0" transform="matrix(1.05000 0 0 1.03265 -8.950 -24.800)"><text x="248.5" y="784" font-size="73" text-anchor="end">0</text></g>
<g id="yb200" transform="matrix(1.00196 0 0 1.01020 1.820 -9.173)"><text x="248.5" y="850" font-size="73" text-anchor="end">200</text></g>
<g id="yb0" transform="matrix(1.10667 0 0 1.01429 -21.933 -15.200)"><text x="248.5" y="1141" font-size="73" text-anchor="end">0</text></g>
<g id="yb-200" transform="matrix(0.98819 0 0 1.01429 3.394 -19.914)"><text x="248.5" y="1429" font-size="73" text-anchor="end">-200</text></g>
<g id="x10_0" transform="matrix(1.07097 0 0 1.02041 -24.677 -30.184)"><text x="227.0" y="1528" font-size="73" text-anchor="start">10</text></g>
<g id="xs_0" transform="matrix(1.23333 0 0 1.05405 -71.667 -79.703)"><text x="293.4" y="1493" font-size="58" text-anchor="start">0</text></g>
<g id="x10_1" transform="matrix(1.00968 0 0 1.00612 -15.274 -8.355)"><text x="754.1" y="1528" font-size="73" text-anchor="start">10</text></g>
<g id="xs_1" transform="matrix(1.80000 0 0 1.03611 -671.600 -54.178)"><text x="822.4" y="1493" font-size="58" text-anchor="start">1</text></g>
<g id="x10_2" transform="matrix(1.04032 0 0 1.01020 -59.935 -15.192)"><text x="1280.0" y="1528" font-size="73" text-anchor="start">10</text></g>
<g id="xs_2" transform="matrix(1.16364 0 0 1.04167 -223.909 -61.867)"><text x="1347.0" y="1493" font-size="58" text-anchor="start">2</text></g>
<g id="x10_3" transform="matrix(1.03548 0 0 1.01020 -72.097 -15.892)"><text x="1804.2" y="1528" font-size="73" text-anchor="start">10</text></g>
<g id="xs_3" transform="matrix(1.06957 0 0 1.07297 -133.365 -107.749)"><text x="1871.0" y="1493" font-size="58" text-anchor="start">3</text></g>
<g id="lab_mag" transform="matrix(1.07042 0 0 1.09478 -4.070 -46.675)"><text transform="translate(126.5,483.3) rotate(-90)" font-size="81" text-anchor="middle">Magnitude/dB</text></g>
<g id="lab_ph" transform="matrix(1.08451 0 0 1.09412 -6.485 -105.047)"><text transform="translate(126.5,1123.1) rotate(-90)" font-size="81" text-anchor="middle">Phase/deg</text></g>
<g id="lab_f" transform="matrix(1.06954 0 0 1.12059 -79.039 -189.353)"><text x="1134.3" y="1604.2" font-size="81" text-anchor="middle">Frequency/Hz</text></g>
</svg>
</body></html>
